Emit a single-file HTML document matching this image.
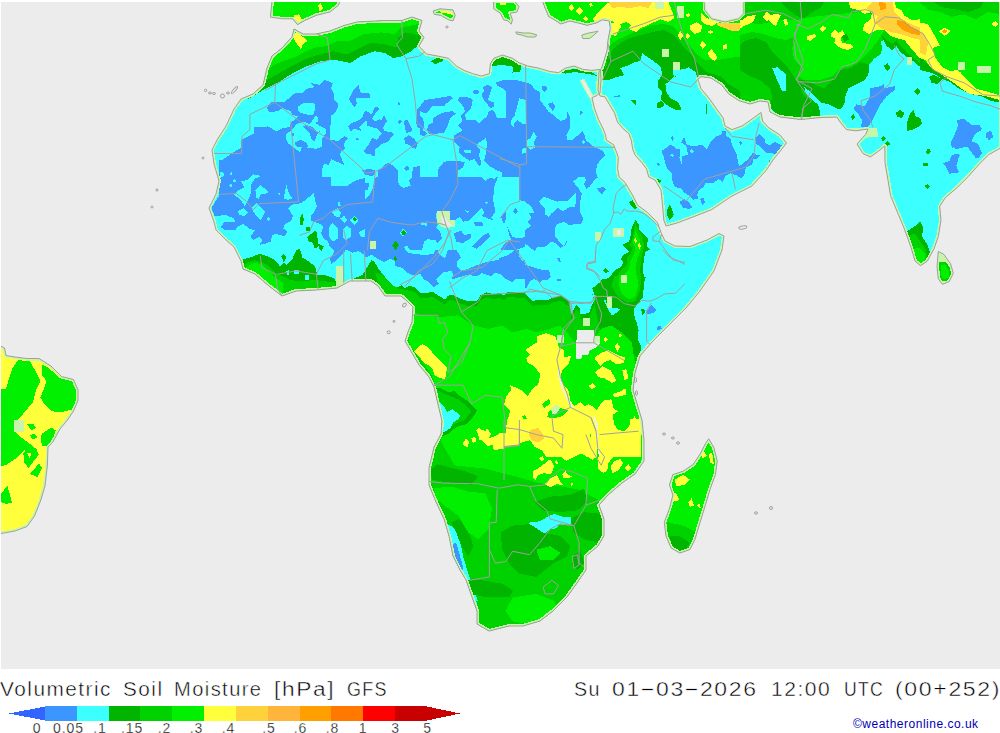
<!DOCTYPE html>
<html><head><meta charset="utf-8"><title>Volumetric Soil Moisture</title>
<style>
html,body{margin:0;padding:0;background:#fff;}
body{width:1000px;height:733px;position:relative;overflow:hidden;font-family:"Liberation Sans",sans-serif;color:#000;}
#map{position:absolute;left:1px;top:2px;width:999px;height:667px;background:#ececec;overflow:hidden;}
#map svg{position:absolute;left:-1px;top:-2px;}
.t{position:absolute;white-space:nowrap;transform-origin:0 0;font-size:19.5px;line-height:20px;top:679px;font-weight:400;-webkit-text-stroke:0.45px #fff;}
.lg{position:absolute;left:0;top:706px;}
.lb{position:absolute;top:721px;font-size:14px;line-height:14px;transform:translateX(-50%);letter-spacing:0.9px;margin-left:0.5px;-webkit-text-stroke:0.3px #fff;}
#cr{position:absolute;left:853px;top:717px;font-size:12px;line-height:14px;color:#0000b4;letter-spacing:0.5px;}
</style></head><body>
<div id="map"><svg width="1000" height="669" viewBox="0 0 1000 669" shape-rendering="crispEdges"><defs><clipPath id="land"><polygon points="294.0,29.0 303.0,34.0 316.0,34.0 330.0,31.0 344.0,25.5 357.0,22.0 385.0,20.5 402.0,20.5 412.0,17.0 422.0,20.5 419.0,31.0 424.0,37.5 419.0,46.0 420.0,47.3 426.6,54.0 437.6,56.0 448.6,58.3 456.3,66.0 464.0,70.4 472.8,73.7 481.6,76.0 489.3,73.7 490.4,63.8 493.7,58.3 502.5,55.0 512.4,58.3 519.0,62.7 527.8,66.0 538.8,68.2 549.8,71.5 558.6,72.6 565.2,68.2 574.0,66.0 582.8,69.3 591.6,70.4 600.4,69.3 601.0,80.0 600.0,93.0 596.0,96.0 592.0,97.6 594.4,108.0 598.4,119.2 603.2,128.8 605.6,135.2 606.4,140.0 613.6,144.8 616.8,152.8 618.4,157.6 617.6,168.8 619.2,177.0 625.0,182.5 632.5,195.0 637.5,205.0 647.5,212.5 657.5,222.5 661.0,232.5 665.0,241.0 675.0,246.0 690.0,246.5 707.0,240.0 719.0,233.5 724.0,236.0 722.0,250.0 714.0,271.0 700.0,291.0 686.0,308.0 669.0,325.0 652.0,342.0 640.0,356.0 635.0,373.0 633.0,390.0 638.0,407.0 642.0,420.0 644.0,440.0 644.0,461.0 635.0,474.0 622.0,483.0 608.0,495.0 599.0,505.0 604.0,519.0 604.0,536.0 598.0,546.0 586.0,556.0 586.0,570.0 577.0,583.0 567.0,597.0 553.0,611.0 540.0,621.0 523.0,626.0 509.0,626.0 489.0,631.0 477.0,624.0 477.0,611.0 472.0,597.0 466.0,580.0 460.0,570.0 453.0,556.0 449.0,536.0 444.0,519.0 436.0,502.0 429.0,485.0 429.0,468.0 434.0,447.0 441.0,434.0 442.0,421.0 437.0,400.0 434.0,387.0 429.0,377.0 419.0,365.0 412.0,353.0 405.0,341.0 408.0,332.0 412.0,322.0 413.0,307.0 407.0,301.0 401.0,296.0 385.0,296.0 378.0,286.0 371.0,281.0 350.0,281.0 337.0,288.0 316.0,290.0 296.0,291.0 282.0,296.0 269.0,286.0 255.0,274.0 243.0,269.0 241.0,261.0 234.0,247.0 226.0,240.0 216.0,230.0 214.0,222.0 209.0,208.0 216.0,194.0 219.0,181.0 214.0,164.0 212.0,150.0 217.0,140.0 226.0,126.0 234.0,109.0 241.0,99.0 253.0,94.0 263.0,85.0 267.0,68.0 272.0,56.0 282.0,48.0 292.0,37.0" fill="#000" /><polygon points="542.0,0.0 545.4,8.8 548.7,16.5 556.4,21.0 560.8,24.0 569.6,21.0 578.4,23.0 587.2,25.3 596.0,23.0 602.6,19.8 609.2,21.0 610.3,28.6 608.1,39.6 607.0,50.6 603.7,61.6 601.5,68.2 599.0,72.0 598.0,90.0 600.0,96.0 604.8,96.8 609.6,104.8 614.4,112.8 617.6,122.4 623.2,128.8 628.8,133.6 631.2,140.0 632.8,149.6 635.2,155.2 641.6,162.4 646.4,168.8 648.8,177.0 655.0,180.0 661.0,190.0 662.5,205.0 663.8,220.0 666.0,226.0 677.0,223.0 694.0,216.6 711.5,209.7 732.0,196.0 752.0,186.0 766.0,170.5 773.0,160.0 779.7,151.8 786.5,143.0 779.7,134.7 769.0,128.0 762.6,121.0 761.0,112.5 752.0,119.0 742.0,126.0 732.0,129.6 725.0,126.0 723.0,117.6 716.6,109.0 709.7,99.0 701.0,88.7 697.8,79.0 701.0,76.7 711.0,78.0 721.7,85.0 728.5,93.8 738.7,100.6 750.0,104.0 760.0,101.0 768.0,102.0 770.0,112.0 780.0,117.0 800.8,119.5 820.0,117.6 836.8,117.0 840.4,122.4 846.4,129.6 856.0,130.8 868.0,129.0 865.6,134.4 857.0,144.0 863.0,153.6 870.4,157.0 880.0,150.0 884.8,146.0 885.0,162.8 887.8,179.0 890.5,195.6 897.3,212.0 904.0,228.0 911.0,247.4 915.0,261.0 920.5,265.7 927.4,261.0 934.0,248.8 938.3,236.5 941.0,220.0 939.7,206.5 945.0,198.0 957.4,187.4 968.3,176.5 979.3,164.0 988.8,154.6 1001.0,147.8 1001.0,0.0" fill="#000" /><polygon points="708.7,438.8 713.8,447.3 717.2,460.9 715.5,474.6 710.4,488.2 705.3,505.3 700.1,522.3 695.0,539.4 689.9,549.6 679.7,553.0 671.1,547.9 666.0,536.0 664.3,522.3 669.4,508.7 672.9,495.0 669.4,484.8 672.9,474.6 683.1,471.2 693.3,464.3 700.1,454.1 705.3,443.9" fill="#000" /><polygon points="-1.5,345.0 4.5,348.0 6.0,355.5 15.0,357.0 27.0,358.5 39.0,358.5 51.0,366.0 61.5,376.5 73.5,379.5 78.0,390.0 78.0,400.5 73.5,411.0 67.5,420.0 60.0,429.0 52.5,442.5 48.0,447.0 47.4,465.0 45.0,486.0 40.5,501.0 34.5,516.0 27.0,526.5 15.0,531.0 -1.5,534.0" fill="#000" /><polygon points="272.1,0.0 270.4,17.1 282.3,18.8 292.6,18.8 297.7,24.6 304.5,20.5 316.4,15.3 330.1,11.9 338.6,5.1 340.3,0.0" fill="#000" /><polygon points="433.2,11.0 439.8,8.8 453.0,9.9 455.2,15.4 453.0,20.9 448.6,19.8 440.9,15.4 434.3,14.3" fill="#000" /><polygon points="493.7,1.1 493.7,8.8 500.3,13.2 503.6,19.8 508.0,20.9 511.3,24.2 512.4,19.8 510.2,13.2 516.8,12.1 519.0,6.6 514.6,1.1" fill="#000" /><polygon points="515.7,31.9 523.4,33.0 530.0,33.0 536.6,34.8 535.5,37.0 527.8,37.0 522.3,35.2 516.8,34.1" fill="#000" /><polygon points="581.7,35.2 587.2,33.4 598.2,31.2 593.8,35.2 589.4,38.5 582.8,38.5" fill="#000" /><polygon points="938.3,251.5 943.8,254.3 950.6,263.8 953.3,273.4 949.2,281.6 942.4,284.3 938.3,278.8 937.0,266.6" fill="#000" /></clipPath></defs><g clip-path="url(#land)"><rect x="0" y="0" width="1000" height="669" fill="#3cffff"/><polygon points="218.8,162.5 227.5,156.2 241.2,147.5 241.2,140.0 256.2,132.5 267.5,126.2 275.0,130.5 275.0,165.0 218.8,165.0" fill="#3c96ff" /><clipPath id="c1"><rect x="253" y="55" width="167" height="122"/></clipPath><g clip-path="url(#c1)"><polygon points="266.4,108.0 271.2,101.6 284.0,102.4 294.4,93.6 303.2,92.8 306.4,88.8 314.4,87.2 311.2,83.2 319.2,84.8 324.8,80.0 332.8,83.2 331.2,88.0 333.6,93.6 333.6,99.2 337.6,103.2 337.6,108.0 334.4,113.6 331.2,115.2 330.4,127.2 329.6,140.0 338.4,140.8 344.8,136.0 347.7,138.4 344.0,143.2 344.8,148.8 341.6,151.2 340.0,154.4 343.2,162.4 344.8,165.6 349.6,172.0 356.0,177.0 356.0,181.6 253.6,181.6 253.6,127.2 260.0,127.2 268.0,126.4 276.0,131.2 283.2,128.0 289.6,127.2 291.2,122.4 298.4,116.8 292.0,114.4 290.4,111.2 282.4,108.0 277.6,111.2 269.6,112.0" fill="#3c96ff" /><polygon points="298.4,106.4 303.2,103.2 314.4,103.2 315.2,109.6 312.8,115.2 306.4,114.4 300.0,112.8 297.6,109.6" fill="#3cffff" /><polygon points="291.2,130.4 296.8,124.0 303.2,121.6 309.6,124.0 312.8,120.0 315.2,116.0 317.6,116.8 317.6,121.6 315.2,123.2 325.6,128.8 325.6,133.6 322.4,138.4 322.4,146.4 316.8,148.8 308.8,148.0 302.4,146.4 300.0,152.0 296.0,149.6 288.0,143.2 285.6,138.4 286.4,133.6" fill="#3cffff" /><polygon points="322.4,168.8 324.0,164.0 328.8,164.8 331.2,159.2 338.4,162.4 344.8,165.6 349.6,172.0 356.0,177.0 356.0,181.6 322.4,181.6" fill="#3cffff" /><polygon points="302.4,126.4 306.4,124.8 312.8,127.2 317.6,132.0 321.6,130.4 316.8,135.2 314.4,141.6 311.2,138.4 309.6,132.8 306.4,130.4" fill="#3c96ff" /><polygon points="292.8,132.8 294.4,134.4 292.8,136.8 291.2,134.4" fill="#3c96ff" /><polygon points="294.4,143.2 297.6,140.8 301.6,140.0 307.2,143.2 308.0,147.2 302.4,146.4 297.6,147.2" fill="#3c96ff" /><polygon points="348.8,99.2 352.8,91.2 358.4,84.8 360.8,92.8 369.6,93.6 370.4,97.6 356.0,98.4 356.8,104.0 354.4,107.2" fill="#3c96ff" /><polygon points="348.0,126.4 351.2,123.2 357.6,120.8 362.4,117.6 364.0,112.0 366.4,111.2 372.0,114.4 374.4,108.0 376.8,106.4 379.2,108.8 375.2,113.6 372.0,118.4 375.2,121.6 379.2,119.2 381.6,120.0 384.0,115.2 387.2,120.8 383.2,127.2 384.0,131.2 391.2,132.0 393.6,134.4 388.0,141.6 381.6,144.0 375.2,149.6 374.4,156.8 370.4,154.4 365.6,153.6 363.2,151.2 368.8,144.8 372.0,137.6 376.8,140.0 381.6,133.6 377.6,128.8 372.0,127.2 367.2,125.6 366.4,120.0 362.4,124.0 359.2,127.2 361.6,131.2 354.4,128.8 350.4,131.2" fill="#3c96ff" /><polygon points="356.8,137.6 358.7,139.2 357.9,140.8 356.0,139.2" fill="#3c96ff" /><polygon points="398.4,102.4 400.0,103.2 399.2,105.6 397.9,104.0" fill="#3c96ff" /><polygon points="397.6,121.6 400.0,119.2 401.6,121.6 399.5,124.0" fill="#3c96ff" /><polygon points="404.0,121.6 407.2,119.2 409.6,124.0 412.0,128.8 411.2,132.0 406.4,132.8 404.8,127.2" fill="#3c96ff" /><polygon points="404.0,138.4 408.8,135.2 413.6,138.4 417.6,143.2 416.0,148.8 412.0,148.0 408.8,144.8 405.6,144.0" fill="#3c96ff" /><polygon points="417.6,108.0 420.0,107.2 421.6,128.8 417.6,127.2 416.0,122.4 416.8,114.4" fill="#3c96ff" /><polygon points="362.4,170.4 368.8,168.8 375.2,170.4 374.4,175.2 370.4,176.0 364.8,174.4" fill="#3c96ff" /><polygon points="378.4,170.4 388.0,162.4 394.4,166.4 397.6,170.4 397.6,178.4 378.4,178.4" fill="#3c96ff" /><polygon points="404.0,168.0 407.2,165.6 409.6,168.8 406.4,171.2" fill="#3c96ff" /><polygon points="412.8,167.2 421.6,165.6 421.6,178.4 412.0,178.4" fill="#3c96ff" /></g><clipPath id="c2"><rect x="420" y="55" width="160" height="122"/></clipPath><g clip-path="url(#c2)"><polygon points="496.0,82.4 503.2,80.0 516.0,80.0 525.6,82.4 530.4,84.0 535.2,89.6 540.0,92.0 540.0,100.0 544.8,106.4 548.0,111.2 552.8,114.4 556.0,117.6 560.8,120.8 566.4,119.2 567.2,111.2 569.6,116.0 570.4,127.2 566.4,135.2 567.2,140.0 572.0,140.0 580.0,133.6 596.0,133.6 596.0,181.6 503.2,181.6 501.6,172.0 496.8,170.4 488.8,165.6 484.0,160.8 485.6,154.4 487.2,143.2 485.6,138.4 476.0,144.8 480.0,149.6 479.2,156.0 481.6,164.0 479.2,166.4 474.4,159.2 469.6,160.8 462.4,156.0 458.4,151.2 460.0,147.2 454.4,141.6 454.4,135.2 462.4,130.4 458.4,125.6 462.4,121.6 460.8,116.0 464.8,111.2 463.2,106.4 457.6,100.0 460.0,96.8 469.6,97.6 472.8,100.0 471.2,108.0 468.0,111.2 464.8,114.4 466.4,120.0 475.2,120.0 479.2,123.2 487.2,116.0 488.8,111.2 492.8,109.6 495.2,112.8 496.8,118.4 506.4,117.6 506.4,92.0 503.2,88.8 496.8,85.6" fill="#3c96ff" /><polygon points="472.8,91.2 476.0,89.6 480.0,92.0 477.6,94.4 474.4,94.4" fill="#3c96ff" /><polygon points="483.2,87.2 487.2,84.8 492.0,87.2 490.4,92.0 488.0,100.0 493.6,102.4 494.4,106.4 490.4,108.0 487.2,104.0 484.0,100.0 481.6,94.4 484.0,92.0" fill="#3c96ff" /><polygon points="424.8,100.0 436.0,98.4 450.4,96.0 452.8,98.4 445.6,104.0 444.0,106.4 432.8,105.6 426.4,113.6 420.0,111.2 420.0,106.4" fill="#3c96ff" /><polygon points="433.6,117.6 442.4,112.8 452.0,111.2 456.0,113.6 450.4,117.6 446.4,128.8 444.0,132.8 429.6,134.4 427.2,130.4 428.0,124.8 432.8,122.4" fill="#3c96ff" /><polygon points="420.0,115.2 423.2,118.4 424.0,124.0 423.2,130.4 427.2,133.6 424.8,136.0 420.0,135.2" fill="#3c96ff" /><polygon points="444.0,161.6 458.4,160.8 464.8,162.4 463.2,167.2 458.4,170.4 456.8,178.4 437.6,178.4 438.4,168.8" fill="#3c96ff" /><polygon points="542.4,86.4 545.6,85.6 547.2,88.8 544.8,92.0 542.4,89.6" fill="#3c96ff" /><polygon points="548.0,104.0 552.8,102.4 555.2,106.4 552.8,111.2 550.4,108.0" fill="#3c96ff" /><polygon points="519.2,98.4 526.4,100.0 526.4,124.0 522.4,124.0 517.6,120.0 514.4,123.2 513.6,127.2 510.4,123.2 511.2,120.0 514.4,116.0 516.8,108.0 518.4,101.6" fill="#3cffff" /><polygon points="533.6,132.0 536.8,136.8 533.6,142.4 535.2,147.2 530.4,149.6 527.2,147.2 527.2,140.0 530.4,138.4" fill="#3cffff" /><polygon points="521.6,148.8 525.6,148.0 526.4,152.8 522.4,153.6" fill="#3cffff" /><polygon points="464.0,150.4 471.2,149.6 471.2,152.8 464.8,152.8" fill="#3cffff" /></g><clipPath id="c3"><rect x="580" y="55" width="60" height="122"/></clipPath><g clip-path="url(#c3)"><polygon points="550.4,120.0 564.8,118.4 567.2,111.2 569.6,116.0 569.6,127.2 566.4,133.6 566.4,140.0 572.8,139.2 577.6,135.2 582.4,131.2 584.8,135.2 585.6,140.0 590.4,144.0 594.4,147.2 602.4,150.4 605.6,155.2 600.0,160.0 596.8,165.6 596.0,172.0 599.2,181.6 550.4,181.6" fill="#3c96ff" /><polygon points="578.4,112.0 580.8,110.9 582.7,112.5 580.5,114.7" fill="#3c96ff" /><polygon points="581.6,141.6 583.2,140.0 585.3,142.4 583.2,144.8" fill="#3cffff" /></g><clipPath id="c4"><rect x="205" y="160" width="55" height="17"/></clipPath><g clip-path="url(#c4)"><polygon points="219.4,160.0 365.0,160.0 365.0,203.2 349.0,205.6 345.8,207.2 341.0,208.0 340.2,202.4 337.8,202.4 337.8,206.4 333.0,206.4 323.4,212.8 317.0,215.2 320.2,219.2 315.4,222.4 310.6,220.8 310.6,216.0 313.8,212.8 317.0,206.4 315.4,201.6 313.8,192.8 307.4,198.4 301.0,203.2 291.4,204.8 288.2,208.0 293.0,216.0 291.4,220.8 285.0,224.0 283.4,228.8 287.4,231.2 285.0,236.0 280.2,235.2 275.4,233.6 272.2,235.2 270.6,241.6 264.2,244.0 259.4,244.8 262.6,240.0 259.4,236.8 253.0,240.0 250.6,236.8 254.6,230.4 249.8,228.8 243.4,224.0 237.0,227.2 235.4,230.4 225.8,230.4 221.0,227.2 224.2,222.4 235.4,221.6 233.8,218.4 225.8,215.2 214.6,216.0 211.4,208.0 219.4,195.2 218.6,176.0" fill="#3c96ff" /><polygon points="315.4,222.4 320.2,219.2 317.0,215.2 323.4,212.8 333.0,206.4 366.6,203.2 366.6,256.0 358.6,251.2 352.2,252.8 345.8,249.6 342.6,254.4 337.8,259.2 331.4,264.0 329.8,259.2 334.6,251.2 329.8,246.4 328.2,241.6 323.4,238.4 321.0,232.8 323.4,227.2 320.2,224.0" fill="#3c96ff" /><polygon points="322.6,167.2 328.2,163.2 331.4,160.0 335.4,160.0 344.2,165.6 344.2,160.0 366.6,160.0 366.6,177.6 354.6,180.8 346.6,186.4 331.4,186.4 330.6,165.6" fill="#3cffff" /><polygon points="233.8,194.4 239.4,189.6 244.2,187.2 241.0,181.6 247.4,180.0 253.0,174.4 261.0,176.0 254.6,178.9 250.6,185.6 251.4,192.0 248.2,200.0 245.0,206.4 241.8,201.6 237.8,197.6" fill="#3cffff" /><polygon points="255.4,190.4 260.2,184.8 269.0,192.0 265.0,194.4 261.0,194.4 258.6,199.2 256.2,197.6" fill="#3cffff" /><polygon points="251.4,208.0 256.2,203.2 261.8,208.0 265.0,212.0 261.0,220.0 256.2,216.0" fill="#3cffff" /><polygon points="237.8,211.2 243.4,208.0 248.2,212.8 245.0,216.0 239.4,215.2" fill="#3cffff" /><polygon points="266.6,219.2 268.7,216.8 270.3,219.2 268.4,221.6" fill="#3cffff" /><polygon points="283.4,198.4 286.6,184.8 288.2,192.0 292.2,198.4 288.2,200.0" fill="#3cffff" /><polygon points="277.8,193.6 280.2,192.8 279.9,195.2" fill="#3cffff" /><polygon points="229.0,184.8 231.4,184.0 232.2,186.4 229.8,187.2" fill="#3cffff" /><polygon points="233.0,180.0 235.4,179.2 236.2,181.6 233.8,182.4" fill="#3cffff" /><polygon points="229.8,172.8 232.2,172.0 232.2,175.2 229.8,175.2" fill="#3cffff" /><polygon points="220.2,172.0 224.2,172.8 223.4,176.8 220.2,177.6" fill="#3cffff" /><polygon points="329.0,227.2 332.2,223.2 337.8,228.8 337.8,238.4 333.0,241.6 329.0,236.8" fill="#3cffff" /><polygon points="342.6,230.4 346.6,225.6 351.4,228.8 350.6,236.8 345.8,240.0 342.6,236.8" fill="#3cffff" /><polygon points="331.4,211.2 337.8,208.0 341.0,212.8 339.4,217.6 334.6,216.0" fill="#3cffff" /><polygon points="340.2,218.4 344.2,216.0 347.4,220.0 344.2,223.2" fill="#3cffff" /><polygon points="349.8,220.0 354.6,216.0 358.6,220.0 354.6,225.6" fill="#3cffff" /><polygon points="358.6,232.0 365.0,228.8 365.0,236.8 361.0,236.8" fill="#3cffff" /></g><clipPath id="c5"><rect x="205" y="177" width="160" height="100"/></clipPath><g clip-path="url(#c5)"><polygon points="219.4,160.0 365.0,160.0 365.0,203.2 349.0,205.6 345.8,207.2 341.0,208.0 340.2,202.4 337.8,202.4 337.8,206.4 333.0,206.4 323.4,212.8 317.0,215.2 320.2,219.2 315.4,222.4 310.6,220.8 310.6,216.0 313.8,212.8 317.0,206.4 315.4,201.6 313.8,192.8 307.4,198.4 301.0,203.2 291.4,204.8 288.2,208.0 293.0,216.0 291.4,220.8 285.0,224.0 283.4,228.8 287.4,231.2 285.0,236.0 280.2,235.2 275.4,233.6 272.2,235.2 270.6,241.6 264.2,244.0 259.4,244.8 262.6,240.0 259.4,236.8 253.0,240.0 250.6,236.8 254.6,230.4 249.8,228.8 243.4,224.0 237.0,227.2 235.4,230.4 225.8,230.4 221.0,227.2 224.2,222.4 235.4,221.6 233.8,218.4 225.8,215.2 214.6,216.0 211.4,208.0 219.4,195.2 218.6,176.0" fill="#3c96ff" /><polygon points="315.4,222.4 320.2,219.2 317.0,215.2 323.4,212.8 333.0,206.4 366.6,203.2 366.6,256.0 358.6,251.2 352.2,252.8 345.8,249.6 342.6,254.4 337.8,259.2 331.4,264.0 329.8,259.2 334.6,251.2 329.8,246.4 328.2,241.6 323.4,238.4 321.0,232.8 323.4,227.2 320.2,224.0" fill="#3c96ff" /><polygon points="322.6,167.2 328.2,163.2 331.4,160.0 335.4,160.0 344.2,165.6 344.2,160.0 366.6,160.0 366.6,177.6 354.6,180.8 346.6,186.4 331.4,186.4 330.6,165.6" fill="#3cffff" /><polygon points="233.8,194.4 239.4,189.6 244.2,187.2 241.0,181.6 247.4,180.0 253.0,174.4 261.0,176.0 254.6,178.9 250.6,185.6 251.4,192.0 248.2,200.0 245.0,206.4 241.8,201.6 237.8,197.6" fill="#3cffff" /><polygon points="255.4,190.4 260.2,184.8 269.0,192.0 265.0,194.4 261.0,194.4 258.6,199.2 256.2,197.6" fill="#3cffff" /><polygon points="251.4,208.0 256.2,203.2 261.8,208.0 265.0,212.0 261.0,220.0 256.2,216.0" fill="#3cffff" /><polygon points="237.8,211.2 243.4,208.0 248.2,212.8 245.0,216.0 239.4,215.2" fill="#3cffff" /><polygon points="266.6,219.2 268.7,216.8 270.3,219.2 268.4,221.6" fill="#3cffff" /><polygon points="283.4,198.4 286.6,184.8 288.2,192.0 292.2,198.4 288.2,200.0" fill="#3cffff" /><polygon points="277.8,193.6 280.2,192.8 279.9,195.2" fill="#3cffff" /><polygon points="229.0,184.8 231.4,184.0 232.2,186.4 229.8,187.2" fill="#3cffff" /><polygon points="233.0,180.0 235.4,179.2 236.2,181.6 233.8,182.4" fill="#3cffff" /><polygon points="229.8,172.8 232.2,172.0 232.2,175.2 229.8,175.2" fill="#3cffff" /><polygon points="220.2,172.0 224.2,172.8 223.4,176.8 220.2,177.6" fill="#3cffff" /><polygon points="329.0,227.2 332.2,223.2 337.8,228.8 337.8,238.4 333.0,241.6 329.0,236.8" fill="#3cffff" /><polygon points="342.6,230.4 346.6,225.6 351.4,228.8 350.6,236.8 345.8,240.0 342.6,236.8" fill="#3cffff" /><polygon points="331.4,211.2 337.8,208.0 341.0,212.8 339.4,217.6 334.6,216.0" fill="#3cffff" /><polygon points="340.2,218.4 344.2,216.0 347.4,220.0 344.2,223.2" fill="#3cffff" /><polygon points="349.8,220.0 354.6,216.0 358.6,220.0 354.6,225.6" fill="#3cffff" /><polygon points="358.6,232.0 365.0,228.8 365.0,236.8 361.0,236.8" fill="#3cffff" /></g><clipPath id="c6"><rect x="365" y="177" width="160" height="100"/></clipPath><g clip-path="url(#c6)"><polygon points="363.4,158.4 526.6,158.4 526.6,281.6 363.4,281.6" fill="#3c96ff" /><polygon points="389.0,163.2 391.4,158.4 445.0,158.4 438.6,166.4 437.8,175.2 435.4,177.6 432.2,173.6 426.6,173.6 421.0,177.6 420.2,169.6 416.2,166.4 413.0,168.8 412.2,176.8 409.0,180.8 410.6,185.6 403.4,188.0 398.6,184.8 397.8,171.2 395.4,167.2" fill="#3cffff" /><polygon points="363.4,169.6 371.4,171.2 377.8,170.4 374.6,180.8 372.2,190.4 368.2,196.8 363.4,201.6" fill="#3cffff" /><polygon points="459.4,170.4 465.0,164.8 475.4,166.4 477.0,162.4 480.2,158.4 504.2,158.4 518.6,168.8 518.6,174.4 513.0,176.0 505.8,174.4 502.6,177.6 497.8,176.0 494.6,179.2 490.6,177.6 485.0,180.8 480.2,176.0 475.4,173.6 467.4,174.4 461.0,174.4" fill="#3cffff" /><polygon points="494.6,184.8 497.8,177.6 505.8,176.0 518.6,174.4 518.6,200.0 510.6,202.4 506.6,206.4 505.8,212.0 501.0,216.8 494.6,220.8 491.4,217.6 495.4,211.2 493.0,200.0" fill="#3cffff" /><polygon points="436.2,227.2 438.6,224.0 435.4,216.0 437.0,211.2 448.2,211.2 448.2,220.0 454.6,220.8 459.4,216.8 463.4,221.6 469.0,220.8 477.0,212.8 481.8,208.0 484.2,212.8 481.8,216.0 489.8,219.2 494.6,220.8 501.0,216.8 504.2,224.0 507.4,227.2 509.8,236.8 511.4,240.0 507.4,241.6 502.6,246.4 497.8,254.4 493.0,256.0 480.2,260.0 480.2,264.0 475.4,267.2 461.0,270.4 456.2,272.0 453.8,278.4 425.8,278.4 429.0,268.8 433.8,262.4 435.4,254.4 433.8,254.4 430.6,249.6 421.0,254.4 418.6,253.6 422.6,248.0 424.2,241.6 427.4,239.2 435.4,240.0 437.0,243.2 441.8,238.4 440.2,232.0" fill="#3cffff" /><polygon points="505.8,212.0 506.6,206.4 510.6,202.4 518.6,200.0 526.6,201.6 526.6,236.8 518.6,238.4 512.2,236.8 509.8,232.0 507.4,227.2 504.2,224.0 505.8,219.2" fill="#3cffff" /><polygon points="517.0,249.6 526.6,246.4 526.6,262.4 518.6,259.2 516.2,254.4" fill="#3cffff" /><polygon points="363.4,259.2 373.0,260.0 379.4,264.8 389.0,257.6 393.8,254.4 398.6,256.0 397.0,262.4 395.4,265.6 401.8,268.8 409.8,273.6 417.8,275.2 419.4,281.6 363.4,281.6" fill="#3cffff" /><polygon points="421.0,223.2 426.6,223.2 426.6,225.6 421.0,225.3" fill="#3cffff" /><polygon points="404.2,247.2 406.9,245.6 409.8,249.6 406.9,252.8" fill="#3cffff" /><polygon points="405.0,168.0 406.9,166.1 408.5,168.3 406.6,170.9" fill="#3cffff" /><polygon points="465.0,210.4 469.0,211.2 467.4,212.8" fill="#3cffff" /><polygon points="485.0,201.9 488.2,202.4 485.8,204.0" fill="#3cffff" /><polygon points="399.4,232.8 403.1,228.8 406.9,232.8 403.1,236.8" fill="#3cffff" /><polygon points="461.0,275.2 486.6,274.4 486.6,279.2 461.0,279.2" fill="#3cffff" /><polygon points="363.4,182.4 369.0,183.2 368.2,189.6 363.4,190.4" fill="#3c96ff" /><polygon points="453.8,233.6 461.0,230.4 464.2,235.2 470.6,233.6 470.6,238.4 462.6,243.2 456.2,241.6" fill="#3c96ff" /><polygon points="473.8,222.4 481.8,221.6 483.4,225.6 475.4,225.6" fill="#3c96ff" /><polygon points="472.2,246.4 483.4,235.2 489.0,232.8 489.8,236.8 477.0,248.8" fill="#3c96ff" /><polygon points="448.2,251.2 454.6,250.4 457.8,256.0 462.6,260.0 457.8,264.8 454.6,262.4 451.4,257.6 448.2,256.0" fill="#3c96ff" /><polygon points="513.0,211.2 515.4,208.0 517.8,211.2 515.4,214.4" fill="#3c96ff" /><polygon points="501.8,219.2 504.2,216.8 505.8,220.0 503.4,223.2" fill="#3c96ff" /><polygon points="491.4,259.2 496.2,255.2 499.4,258.4 495.4,261.6" fill="#3cffff" /></g><clipPath id="c7"><rect x="525" y="177" width="115" height="100"/></clipPath><g clip-path="url(#c7)"><rect x="525" y="177" width="115" height="100" fill="#3cffff"/><polygon points="524.7,158.4 600.2,158.4 596.2,166.4 597.0,172.8 599.4,176.0 593.8,180.8 589.8,186.4 586.6,188.8 584.2,184.0 585.8,180.0 582.6,172.8 577.8,177.6 573.0,181.6 577.8,187.2 581.8,193.6 580.2,201.6 580.2,212.8 583.4,219.2 581.0,224.0 568.2,224.8 564.2,221.6 556.2,224.8 554.6,230.4 555.4,236.8 559.4,241.6 563.4,246.4 567.4,240.0 565.8,244.8 560.2,248.0 556.2,243.2 550.6,241.6 545.8,246.4 537.0,247.2 534.6,251.2 529.8,247.2 524.7,243.2 524.7,230.4 531.4,225.6 527.4,222.4 531.4,217.6 529.0,212.8 534.6,212.8 531.4,206.4 524.7,201.6" fill="#3c96ff" /><polygon points="539.4,201.6 544.2,196.8 550.6,199.2 557.0,201.6 568.2,200.8 576.2,192.8 575.4,206.4 569.0,207.2 563.4,211.2 557.8,208.0 551.4,213.6 549.0,216.8 545.0,214.4 545.0,208.0 540.2,204.0" fill="#3cffff" /><polygon points="565.0,185.6 568.2,183.2 571.4,186.4 567.9,189.1" fill="#3c96ff" /><polygon points="597.0,188.0 603.4,187.2 605.8,189.6 601.8,194.4 598.6,191.2" fill="#3c96ff" /><polygon points="557.0,258.4 559.4,257.6 561.0,262.4 558.6,261.6" fill="#3c96ff" /><polygon points="524.7,264.8 533.0,267.2 541.0,269.6 549.0,270.4 552.2,281.6 524.7,281.6" fill="#3c96ff" /></g><clipPath id="c8"><rect x="365" y="250" width="160" height="50"/></clipPath><g clip-path="url(#c8)"><rect x="365" y="250" width="160" height="50" fill="#3cffff"/><polygon points="364.2,249.2 364.2,258.0 371.4,254.8 377.8,258.8 384.2,262.0 390.6,258.8 395.4,261.2 395.4,266.0 401.8,267.6 406.6,272.4 413.0,275.6 420.2,274.0 424.2,279.6 429.0,282.0 433.8,287.6 438.6,283.6 436.2,279.6 443.4,272.4 451.4,270.8 453.0,274.0 452.2,279.6 459.4,277.2 467.4,274.8 477.0,276.4 481.8,273.2 491.4,276.4 494.6,272.4 500.2,274.0 505.8,278.8 512.2,282.0 515.4,278.8 526.6,279.6 526.6,249.2" fill="#3c96ff" /><polygon points="405.0,249.2 409.0,253.2 417.8,254.0 421.0,254.8 425.8,254.8 433.8,254.0 435.4,249.2" fill="#3cffff" /><polygon points="437.8,249.2 448.2,249.2 445.0,258.0 441.8,256.4 438.6,253.2" fill="#3cffff" /><polygon points="456.2,249.2 515.4,249.2 509.0,254.8 499.4,258.0 499.4,259.6 491.4,261.2 483.4,262.8 477.0,265.2 467.4,269.2 461.0,270.8 457.0,266.0 457.0,261.2 461.0,258.0" fill="#3cffff" /><polygon points="518.6,249.2 526.6,249.2 526.6,259.6 522.6,261.2 519.4,256.4" fill="#3cffff" /><polygon points="393.8,258.0 395.4,256.1 397.0,258.3 395.4,260.6" fill="#00b400" /></g><clipPath id="c9"><rect x="525" y="277" width="175" height="63"/></clipPath><g clip-path="url(#c9)"><polygon points="524.2,265.2 529.0,266.0 533.0,269.2 544.2,269.2 549.0,270.8 552.2,274.8 548.2,279.6 542.6,280.4 539.4,282.8 534.6,278.8 529.8,281.2 526.6,287.6 524.2,287.6" fill="#3c96ff" /><polygon points="557.0,258.0 559.4,258.8 561.0,262.8 558.6,261.2" fill="#3c96ff" /><polygon points="557.0,278.8 561.0,278.8 561.0,280.7 557.0,280.7" fill="#3c96ff" /><polygon points="647.4,310.0 651.4,305.2 656.2,310.0 653.8,313.2 647.4,314.0" fill="#3c96ff" /><polygon points="657.0,326.8 661.0,326.0 661.8,329.2 657.0,330.0" fill="#3c96ff" /><polygon points="536.2,274.0 539.4,273.2 541.0,275.6 537.8,277.2" fill="#3cffff" /></g><polygon points="240.0,267.5 241.2,260.0 250.0,257.5 260.0,253.8 267.5,256.2 275.0,260.0 280.0,266.2 283.8,262.5 286.2,265.0 292.5,258.8 296.2,250.0 300.0,248.8 302.5,257.5 310.0,262.5 315.0,266.2 317.5,275.0 325.0,275.0 335.0,278.8 336.2,283.8 350.0,283.8 350.0,280.0 362.5,275.0 365.0,270.8 371.4,260.4 374.6,262.0 377.8,267.6 382.6,274.0 389.0,282.0 395.4,288.4 401.8,285.2 405.0,288.4 408.2,286.0 414.6,286.8 419.4,292.4 427.4,293.2 432.2,291.6 438.6,295.6 445.0,299.6 448.2,295.6 452.2,294.8 461.0,298.8 467.4,301.2 477.0,301.2 480.2,295.6 486.6,292.4 493.0,294.0 499.4,293.2 504.2,295.6 507.4,292.4 512.2,291.6 517.0,293.2 525.0,292.4 525.0,293.2 529.8,298.0 533.0,301.2 537.8,299.6 547.4,300.4 553.8,297.2 561.8,295.6 566.6,299.6 569.8,302.8 571.4,314.0 576.2,305.2 580.2,309.2 580.2,314.0 589.0,313.2 592.2,304.4 595.4,298.0 593.8,293.2 592.2,288.4 600.2,282.0 601.8,279.6 609.0,278.0 614.6,270.4 621.0,267.2 623.4,262.4 620.2,259.2 624.2,254.4 629.0,252.0 626.6,248.8 622.6,244.8 629.0,241.6 630.6,235.2 631.4,228.8 633.8,223.2 635.4,220.0 638.6,224.0 639.4,230.4 644.2,235.2 648.2,238.4 646.6,246.4 650.6,249.6 645.0,252.0 644.2,259.2 642.6,268.8 644.2,277.0 645.8,277.2 644.2,282.0 643.4,291.6 642.6,298.0 637.0,304.4 633.8,309.2 634.6,317.2 637.0,323.6 638.6,330.0 637.8,339.6 641.0,346.0 640.2,354.0 641.0,360.4 641.0,368.4 641.0,700.0 200.0,700.0 200.0,262.0" fill="#00b400" /><polygon points="405.0,300.0 408.2,291.0 414.6,291.8 419.4,297.4 427.4,298.2 432.2,296.6 438.6,300.6 445.0,304.6 448.2,300.6 452.2,299.8 461.0,303.8 467.4,306.2 477.0,306.2 480.2,300.6 486.6,297.4 493.0,299.0 499.4,298.2 504.2,300.6 507.4,297.4 512.2,296.6 517.0,298.2 525.0,297.4 525.0,298.2 529.8,303.0 533.0,306.2 537.8,304.6 547.4,305.4 553.8,302.2 561.8,300.6 566.6,304.6 569.8,307.8 571.4,319.0 576.2,310.2 580.2,314.2 580.2,319.0 589.0,318.2 592.2,309.4 595.4,303.0 593.8,298.2 592.2,293.4 600.0,330.0 641.0,360.0 641.0,700.0 400.0,700.0" fill="#00d200" /><polygon points="406.8,308.4 420.5,315.3 440.9,317.0 458.0,315.3 473.3,325.5 488.7,328.9 502.3,325.5 512.6,332.3 526.2,328.9 536.4,332.3 550.1,328.9 560.3,325.5 567.1,332.3 577.4,346.0 591.0,342.6 601.2,328.9 611.5,325.5 621.7,332.3 631.9,342.6 635.3,366.4 638.7,390.3 643.9,421.0 645.6,448.3 638.7,468.7 625.1,480.0 618.3,499.4 604.6,502.9 577.4,489.2 536.4,482.4 512.6,475.6 485.3,468.7 454.6,465.3 440.9,441.5 444.3,421.0 458.0,414.2 464.8,403.9 451.2,400.5 437.5,390.3 430.7,373.2 420.5,359.6 410.2,346.0 406.8,332.3" fill="#00f000" /><polygon points="635.4,223.2 637.8,228.8 642.6,236.8 644.2,246.4 641.8,256.0 640.2,268.8 641.0,278.4 614.6,278.4 621.0,270.4 627.4,264.0 627.4,257.6 630.6,254.4 632.2,248.0 629.0,244.8 632.2,240.0 633.8,230.4" fill="#00d200" /><polygon points="635.4,230.4 640.2,240.0 641.0,249.6 637.0,259.2 635.4,268.8 637.0,278.4 621.0,278.4 629.0,268.8 630.6,260.8 633.8,254.4 635.4,248.0 633.0,243.2" fill="#00f000" /><polygon points="614.6,275.6 640.2,275.6 641.0,282.0 639.4,291.6 635.4,301.2 627.4,302.8 619.4,298.0 614.6,291.6 611.4,285.2" fill="#00d200" /><polygon points="619.4,275.6 637.0,275.6 638.6,285.2 635.4,296.4 629.0,299.6 622.6,294.8 619.4,286.8" fill="#00f000" /><polygon points="633.8,240.0 635.4,237.6 637.0,240.8 635.4,243.2" fill="#ffff3c" /><polygon points="637.8,245.6 639.4,242.4 641.0,246.4 639.4,249.6" fill="#ffff3c" /><polygon points="605.0,298.0 608.2,307.6 617.0,307.6 620.2,310.0 612.2,315.6 608.2,310.0 604.2,301.2" fill="#3cffff" /><polygon points="537.2,336.1 546.2,333.1 555.2,336.1 557.2,342.1 560.2,350.1 564.3,357.1 571.3,356.1 568.3,364.2 562.2,370.2 560.2,378.2 564.3,386.2 568.3,390.2 570.3,400.3 574.3,406.3 580.3,402.3 584.3,406.3 588.3,404.3 592.3,406.3 596.3,410.3 600.4,404.3 604.4,400.3 611.4,399.3 613.4,408.3 618.4,411.3 613.4,414.3 612.4,424.3 616.4,430.4 622.4,433.4 628.4,430.4 630.5,422.3 634.5,416.3 640.5,424.3 640.5,457.0 604.4,457.0 600.4,450.4 598.4,440.4 596.3,457.0 586.3,457.0 582.3,450.4 576.3,448.4 568.3,450.4 562.2,457.0 546.2,457.0 542.2,450.4 534.2,446.4 530.2,440.4 520.1,438.4 510.1,442.4 504.1,448.4 494.0,450.4 491.0,440.4 498.1,434.4 506.1,432.4 510.1,426.3 508.1,418.3 510.1,410.3 504.1,404.3 506.1,396.3 511.1,390.2 510.1,385.2 520.1,389.2 528.1,396.3 531.2,390.2 538.2,384.2 540.2,374.2 534.2,366.2 528.1,363.2 526.1,358.1 530.2,354.1 525.1,350.1 532.2,345.1 537.2,342.1" fill="#ffff3c" /><polygon points="542.2,404.3 549.2,398.3 550.2,403.3 544.2,408.3" fill="#00f000" /><polygon points="548.2,412.3 555.2,406.3 568.3,410.3 562.2,416.3 554.2,418.3 547.2,417.3" fill="#00f000" /><polygon points="585.3,430.4 589.3,428.4 591.3,434.4 588.3,442.4 585.3,440.4" fill="#00f000" /><polygon points="522.1,416.3 525.1,415.3 527.1,419.3 524.5,421.9" fill="#00f000" /><polygon points="551.2,408.3 557.2,404.3 560.2,408.3 556.2,414.3 551.8,414.3" fill="#c8f5aa" /><polygon points="531.2,429.4 538.2,428.4 542.2,432.4 544.2,438.4 538.2,442.4 531.2,440.4 529.1,434.4" fill="#ffd23c" /><polygon points="594.3,358.1 600.4,353.1 608.4,350.1 620.4,356.1 625.4,357.1 623.4,363.2 616.4,364.2 610.4,360.2 604.4,362.2 600.4,366.2" fill="#ffff3c" /><polygon points="595.3,372.2 602.4,366.2 610.4,370.2 616.4,380.2 612.4,383.2 604.4,378.2 598.4,377.2" fill="#ffff3c" /><polygon points="588.3,386.2 592.3,383.2 596.3,386.2 592.3,389.2" fill="#ffff3c" /><polygon points="612.4,394.3 620.4,391.2 625.4,388.2 626.4,394.3 620.4,396.3 614.4,397.3" fill="#ffff3c" /><polygon points="622.4,370.2 626.4,369.2 628.4,378.2 624.4,380.2" fill="#ffff3c" /><polygon points="614.4,346.1 617.4,343.1 620.0,347.1 617.4,352.1" fill="#ffff3c" /><polygon points="603.4,339.1 606.0,337.1 608.0,340.1 605.4,342.1" fill="#ffff3c" /><polygon points="618.4,335.1 620.4,333.7 622.0,336.1 620.0,337.7" fill="#ffff3c" /><polygon points="557.2,350.1 560.2,348.1 564.3,350.1 563.2,358.1 558.2,359.1" fill="#ffff3c" /><polygon points="577.3,330.1 594.3,330.1 594.3,342.1 600.4,343.1 595.3,348.1 589.3,351.1 588.3,355.1 582.3,355.1 581.3,359.1 576.3,359.1 576.3,343.1" fill="#ececec" /><polygon points="583.3,318.0 590.3,318.0 590.3,326.0 583.3,326.0" fill="#c8f5aa" /><polygon points="557.2,335.1 564.3,335.1 564.3,343.1 557.2,343.1" fill="#c8f5aa" /><polygon points="594.3,336.1 600.4,336.1 600.4,343.1 594.3,343.1" fill="#c8f5aa" /><polyline points="558.6,369.2 559.8,378.2 562.2,388.2 566.3,396.3 570.3,404.3 572.7,408.7" fill="none" stroke="#e6f5dc" stroke-width="2" /><polyline points="593.3,417.3 596.3,422.3 598.4,434.4 598.0,446.4 600.4,458.4" fill="none" stroke="#e6f5dc" stroke-width="2" /><polygon points="414.0,351.1 422.1,344.0 428.1,347.1 432.1,352.1 437.1,358.1 443.1,363.1 447.1,368.1 446.1,373.1 445.1,379.1 440.1,378.1 434.1,375.1 433.1,370.1 428.1,365.1 423.1,362.1 419.1,356.1" fill="#ffff3c" /><polygon points="433.1,387.2 440.1,388.2 448.1,392.2 454.2,391.2 460.2,396.2 466.2,400.2 472.2,406.2 477.2,410.2 472.2,418.3 466.2,424.3 458.2,426.3 452.2,430.3 448.1,434.3 442.1,436.3 438.1,442.3 436.1,448.4 430.1,448.4 430.1,387.2" fill="#00b400" /><polygon points="437.1,390.2 448.1,395.2 458.2,399.2 468.2,407.2 471.2,412.2 464.2,420.3 456.2,423.3 450.2,427.3 446.1,431.3 440.1,433.3 438.1,410.2" fill="#00d200" /><polygon points="439.1,402.2 444.1,406.2 447.1,412.2 452.2,409.2 460.2,415.3 458.2,419.3 453.2,422.3 450.2,428.3 444.1,432.3 441.1,431.3 440.1,414.3 438.1,404.2" fill="#3cffff" /><polygon points="476.2,430.3 479.2,427.3 484.3,432.3 487.3,428.3 491.3,434.3 488.3,438.3 494.3,436.3 500.3,433.3 508.3,434.3 514.3,431.3 518.4,434.3 519.4,445.3 512.3,446.3 504.3,446.3 496.3,450.4 492.3,444.3 488.3,446.3 480.2,439.3" fill="#ffff3c" /><polygon points="462.2,444.3 466.2,438.3 469.2,442.3 467.2,447.4" fill="#ffff3c" /><polygon points="471.2,438.3 475.2,436.3 476.2,441.3 473.2,443.3" fill="#ffff3c" /><polygon points="479.0,429.0 486.0,431.0 491.0,435.0 486.0,438.1 479.0,440.1" fill="#ffff3c" /><polygon points="492.0,438.1 500.1,433.0 506.1,434.0 506.1,429.0 507.1,419.0 592.3,419.0 591.3,430.0 589.3,440.1 592.3,444.1 596.3,450.1 597.4,456.1 592.3,460.1 586.3,455.1 580.3,454.1 572.3,458.1 566.3,461.1 560.2,456.1 566.3,452.1 570.3,447.1 562.2,450.1 556.2,446.1 546.2,442.1 538.2,441.1 530.2,440.1 520.1,443.1 512.1,446.1 504.1,447.1 496.0,450.1 495.0,444.1" fill="#ffff3c" /><polygon points="598.4,419.0 640.5,419.0 640.5,448.1 634.5,454.1 628.4,453.1 620.4,452.1 612.4,458.1 608.4,463.1 607.4,470.2 603.4,473.2 598.4,469.1 597.4,459.1 600.4,454.1 598.4,444.1 597.4,432.0" fill="#ffff3c" /><polygon points="610.4,467.1 614.4,461.1 620.4,459.1 623.4,463.1 618.4,470.2 612.4,473.2" fill="#ffff3c" /><polygon points="624.8,468.1 628.4,464.1 630.9,468.1 628.0,471.8" fill="#ffff3c" /><polygon points="533.2,471.2 540.2,467.1 550.2,459.1 554.2,466.1 551.2,474.2 544.2,473.2 538.2,475.2 535.2,480.2 533.2,477.2" fill="#ffff3c" /><polygon points="544.2,484.2 550.2,478.2 557.2,475.2 560.2,481.2 563.2,485.2 557.2,484.2 550.2,487.2" fill="#ffff3c" /><polygon points="562.2,474.2 565.3,471.2 568.3,475.2 572.3,476.2 568.3,478.2 563.2,478.2" fill="#ffff3c" /><polygon points="539.2,458.1 542.2,456.1 544.6,459.1 541.8,461.7" fill="#ffff3c" /><polygon points="554.6,462.1 556.6,460.1 558.2,463.1 556.2,464.5" fill="#ffff3c" /><polygon points="570.3,484.2 571.9,482.6 573.3,484.6 571.7,486.2" fill="#ffff3c" /><polygon points="613.4,419.0 630.5,419.0 629.4,426.0 624.4,431.0 618.4,430.0 614.4,425.0" fill="#00f000" /><polygon points="530.2,430.0 538.2,428.0 542.2,433.0 544.2,439.1 538.2,442.1 531.2,440.1 529.1,435.0" fill="#ffd23c" /><polygon points="527.1,527.3 530.2,522.3 540.2,521.3 548.2,516.3 555.2,513.9 560.2,516.3 571.3,517.3 573.3,522.3 568.3,525.3 559.2,524.3 556.2,528.3 550.2,529.3 545.2,533.3 539.2,537.4 534.2,532.3 530.2,533.3" fill="#3cffff" /><polygon points="529.1,565.4 534.2,562.4 538.2,561.4 537.2,568.4 529.1,568.4" fill="#3cffff" /><polygon points="596.3,529.3 600.4,526.3 602.0,535.3 597.4,534.3" fill="#3cffff" /><polygon points="598.2,79.2 601.2,80.2 608.2,80.2 616.2,77.2 624.3,75.2 620.2,68.2 626.3,66.2 634.3,62.2 640.3,61.2 642.3,53.2 646.3,56.2 652.3,60.2 660.4,66.2 662.4,74.2 658.4,80.2 657.4,86.3 662.4,92.3 660.4,98.3 665.4,104.3 676.4,110.3 680.4,108.3 678.4,102.3 670.4,98.3 666.4,92.3 665.4,84.3 670.4,80.2 674.4,76.2 678.4,78.2 672.4,74.2 673.4,70.2 684.4,69.2 688.4,67.2 695.5,72.2 698.5,79.2 700.5,84.3 742.6,104.3 742.6,-2.0 540.0,-2.0 540.0,27.1 598.2,27.1" fill="#00b400" /><polygon points="608.2,60.2 612.2,50.2 620.2,43.1 630.3,38.1 640.3,35.1 648.3,33.1 656.3,31.1 664.4,30.1 672.4,34.1 678.4,40.1 684.4,48.1 692.5,56.2 698.5,64.2 706.5,72.2 720.5,76.2 728.6,84.3 742.6,92.3 742.6,-2.0 540.0,-2.0 540.0,27.1 606.2,27.1" fill="#00d200" /><polygon points="609.2,46.1 616.2,40.1 624.3,37.1 634.3,32.1 644.3,28.1 652.3,25.1 664.4,24.1 672.4,26.1 680.4,34.1 688.4,44.1 696.5,54.2 704.5,60.2 716.5,60.2 728.6,58.2 742.6,56.2 742.6,-2.0 540.0,-2.0 540.0,27.1 608.2,27.1" fill="#00f000" /><polygon points="560.1,70.2 576.1,69.2 590.2,71.2 598.2,76.2 590.2,74.2 576.1,72.2 562.1,72.6" fill="#00b400" /><polygon points="592.2,20.1 598.2,12.0 606.2,4.0 610.2,2.0 654.3,2.0 668.4,2.0 672.4,12.0 674.4,18.1 668.4,22.1 660.4,19.1 654.3,22.1 648.3,25.1 640.3,28.1 636.3,32.1 630.3,30.1 626.3,24.1 620.2,28.1 616.2,36.1 610.2,34.1 609.2,26.1 614.2,22.1 610.2,20.1 600.2,22.1" fill="#ffff3c" /><polygon points="620.2,24.1 626.3,22.1 631.3,25.1 627.3,30.1 622.2,29.1" fill="#00f000" /><polygon points="608.2,2.0 652.3,2.0 648.3,8.0 640.3,6.0 630.3,8.0 620.2,7.0 612.2,8.0" fill="#ffd23c" /><polygon points="568.1,7.0 571.1,4.0 574.5,7.6 571.5,11.0" fill="#ffff3c" /><polygon points="575.1,11.0 579.1,7.0 583.1,11.0 579.1,15.0" fill="#ffff3c" /><polygon points="589.1,4.0 591.2,2.4 592.6,5.6 590.2,7.0" fill="#ffff3c" /><polygon points="585.1,16.0 588.1,19.1 586.1,21.1 583.1,19.1" fill="#ffff3c" /><polygon points="689.4,26.1 696.5,22.1 702.5,26.1 700.5,32.1 694.5,34.1 690.5,30.1" fill="#ffff3c" /><polygon points="699.5,45.1 702.5,41.1 706.5,45.1 702.9,49.1" fill="#ffff3c" /><polygon points="707.5,53.2 711.5,49.1 717.5,57.2 714.5,61.2 710.5,58.2" fill="#ffff3c" /><polygon points="677.4,35.1 680.4,31.1 683.4,35.1 680.4,40.1" fill="#ffff3c" /><polygon points="685.4,36.1 687.4,33.1 690.1,36.1 687.4,39.1" fill="#ffff3c" /><polygon points="722.5,45.1 726.6,44.1 726.6,49.1 722.9,49.7" fill="#ffff3c" /><polygon points="685.4,15.0 688.4,13.0 690.5,15.6 688.0,17.7" fill="#ffff3c" /><polygon points="707.5,32.1 710.5,30.1 713.5,32.1 710.5,34.1" fill="#ffff3c" /><polygon points="700.5,12.0 706.5,18.1 712.5,20.1 720.5,22.1 716.5,23.1 712.5,26.1 704.5,24.1 700.5,20.1" fill="#ffff3c" /><polygon points="716.5,23.1 742.6,23.1 742.6,30.1 732.6,31.1 724.6,28.1 718.5,26.1" fill="#ffd23c" /><polygon points="677.4,6.0 684.0,6.0 684.0,18.1 677.4,18.1" fill="#c8f5aa" /><polygon points="662.0,49.1 669.0,49.1 669.0,57.2 662.0,57.2" fill="#c8f5aa" /><polygon points="673.0,62.2 680.0,62.2 680.0,69.8 673.0,69.8" fill="#c8f5aa" /><polygon points="655.3,2.4 664.4,2.4 664.4,9.0 655.3,9.0" fill="#c8f5aa" /><polygon points="657.4,103.3 661.4,101.3 664.0,104.3 662.8,107.3 658.0,107.9" fill="#00b400" /><polygon points="631.3,100.3 635.9,100.3 635.9,105.9" fill="#00b400" /><polygon points="600.2,58.2 604.2,54.2 607.2,60.2 606.2,68.2 602.2,66.2" fill="#00d200" /><clipPath id="c10"><rect x="740" y="0" width="180" height="147"/></clipPath><g clip-path="url(#c10)"><polygon points="719.0,-1.0 921.6,-1.0 921.6,148.4 789.2,148.4 789.2,109.3 719.0,109.3" fill="#00d200" /><polygon points="796.2,20.1 804.3,18.1 820.3,16.0 840.4,14.0 860.4,12.0 880.5,16.0 884.5,30.1 878.5,40.1 870.5,50.2 860.4,60.2 850.4,66.2 840.4,68.2 832.3,76.2 820.3,80.2 804.3,80.2 798.2,76.2 802.2,68.2 794.2,60.2 792.2,48.1 796.2,36.1" fill="#00f000" /><polygon points="720.0,20.1 740.1,22.1 760.1,24.1 780.2,20.1 796.2,20.1 796.2,36.1 786.2,40.1 776.2,38.1 764.1,34.1 752.1,32.1 736.0,36.1 720.0,40.1" fill="#00f000" /><polygon points="728.0,58.2 736.0,48.1 746.1,40.1 756.1,38.1 766.1,42.1 772.2,52.2 780.2,60.2 788.2,68.2 796.2,80.2 800.2,88.3 804.3,96.3 816.3,100.3 819.3,108.3 820.3,118.4 800.2,120.4 780.2,117.4 770.2,108.3 772.2,96.3 770.2,88.3 760.1,80.2 750.1,76.2 740.1,70.2 732.0,66.2" fill="#00b400" /><polygon points="796.2,80.2 804.3,80.2 814.3,84.3 824.3,88.3 832.3,80.2 840.4,70.2 850.4,68.2 860.4,62.2 869.4,64.2 868.4,74.2 864.4,80.2 856.4,84.3 848.4,88.3 845.4,96.3 844.4,104.3 840.4,109.3 836.3,108.3 828.3,104.3 820.3,102.3 816.3,100.3 808.3,94.3 800.2,88.3" fill="#00b400" /><polygon points="780.2,2.0 824.3,2.0 820.3,8.0 812.3,12.0 804.3,18.1 796.2,16.0 788.2,10.0" fill="#00b400" /><polygon points="880.5,34.1 886.5,40.1 892.5,44.1 896.5,40.1 900.5,46.1 908.6,54.2 921.6,64.2 921.6,69.2 914.6,62.2 908.6,58.2 900.5,52.2 896.5,46.1 892.5,50.2 886.5,46.1 883.5,40.1" fill="#00b400" /><polygon points="820.3,118.4 819.3,108.3 816.3,100.3 820.3,102.3 828.3,104.3 836.3,108.3 840.4,109.3 844.4,104.3 845.4,96.3 848.4,88.3 856.4,84.3 864.4,80.2 868.4,74.2 869.4,64.2 874.5,58.2 880.5,54.2 882.5,48.1 880.5,42.1 883.5,40.1 886.5,46.1 892.5,50.2 896.5,46.1 900.5,52.2 908.6,58.2 914.6,62.2 921.6,68.2 921.6,148.4 820.3,148.4" fill="#3cffff" /><polygon points="804.3,87.3 808.3,90.3 814.3,96.3 820.3,102.3 819.3,105.3 812.3,100.3 806.3,94.3" fill="#3cffff" /><polygon points="772.2,68.2 777.2,67.2 786.2,74.2 786.2,91.3 782.2,91.3 777.2,80.2" fill="#3cffff" /><polygon points="870.5,88.3 880.5,86.3 883.5,84.3 884.5,88.3 894.5,86.3 895.5,89.3 886.5,96.3 880.5,104.3 876.5,112.3 872.5,120.4 868.4,126.4 860.4,127.4 862.4,120.4 858.4,114.3 853.4,109.3 856.4,104.3 864.4,106.3 869.4,98.3" fill="#3c96ff" /><polygon points="883.5,66.2 887.5,63.2 890.5,67.2 887.5,71.2" fill="#00b400" /><polygon points="850.4,116.3 853.4,114.3 855.4,117.4 852.8,120.0" fill="#00b400" /><polygon points="896.5,112.3 900.5,109.9 904.6,113.3 901.5,118.4 896.9,116.3" fill="#00b400" /><polygon points="907.6,120.4 910.6,112.3 913.6,110.3 915.6,116.3 921.6,118.4 921.6,124.4 912.6,128.4 907.6,131.4 906.6,125.4" fill="#00b400" /><polygon points="913.6,91.3 917.6,88.3 921.6,91.3 917.6,95.3" fill="#00b400" /><polygon points="880.5,138.4 883.5,136.4 886.1,138.8 883.5,141.4" fill="#00b400" /><polygon points="763.1,17.1 767.1,11.0 770.2,15.0 776.2,14.0 781.2,15.0 778.2,20.1 776.2,26.1 772.2,24.1 769.1,20.1 766.1,21.1" fill="#ffff3c" /><polygon points="783.2,20.1 786.2,18.1 788.2,24.1 785.2,26.1" fill="#ffff3c" /><polygon points="807.3,36.1 814.3,34.1 816.3,36.1 810.3,41.1 807.3,40.1" fill="#ffff3c" /><polygon points="819.3,29.1 823.3,25.7 826.3,28.1 822.3,31.7" fill="#ffff3c" /><polygon points="831.3,33.1 835.3,29.7 838.4,33.1 842.4,30.1 845.4,35.1 840.4,38.1 842.4,43.1 850.4,44.1 853.4,47.1 848.4,50.2 840.4,48.1 834.3,43.1 835.3,38.1 831.3,37.1" fill="#ffff3c" /><polygon points="719.0,23.1 728.0,22.1 742.1,20.1 748.1,16.0 756.1,15.0 753.1,22.1 744.1,26.1 738.1,30.1 730.0,29.1 724.0,33.1 719.0,32.1" fill="#ffff3c" /><polygon points="848.4,2.0 921.6,2.0 921.6,60.2 912.6,50.2 904.6,40.1 896.5,38.1 890.5,36.1 884.5,30.1 876.5,30.1 868.4,34.1 862.4,30.1 864.4,24.1 870.5,19.1 872.5,12.0 864.4,14.0 858.4,10.0 850.4,8.0" fill="#ffff3c" /><polygon points="841.4,36.1 846.4,34.1 849.4,39.1 844.4,42.1" fill="#00b400" /><polygon points="720.0,24.1 732.0,23.1 742.1,25.1 736.0,29.1 726.0,30.1 720.0,30.1" fill="#ffd23c" /><polygon points="866.4,8.0 872.5,2.0 892.5,2.0 894.5,12.0 900.5,18.1 910.6,24.1 921.6,28.1 921.6,40.1 912.6,38.1 900.5,34.1 890.5,32.1 880.5,28.1 874.5,22.1 878.5,16.0 872.5,14.0" fill="#ffd23c" /><polygon points="878.5,2.0 886.5,3.0 885.5,9.0 880.5,10.0" fill="#ffa000" /><polygon points="896.5,20.1 904.6,21.1 910.6,26.1 918.6,30.1 921.6,35.1 912.6,34.1 902.5,30.1 897.5,25.1" fill="#ffa000" /><polygon points="894.5,2.0 921.6,2.0 921.6,19.1 912.6,20.1 904.6,16.0 901.5,10.0 896.5,8.0" fill="#00f000" /><polygon points="906.6,57.2 911.6,57.2 911.6,65.2 906.6,65.2" fill="#c8f5aa" /><polygon points="852.4,128.4 876.5,128.4 878.5,136.4 860.4,138.4 854.4,133.4" fill="#c8f5aa" /></g><polygon points="661.5,151.2 670.9,144.3 676.0,148.6 680.3,149.4 679.4,158.0 682.0,164.8 682.0,156.3 688.0,154.6 686.3,146.0 681.2,142.6 684.2,137.2 687.1,145.2 694.8,146.0 702.5,144.7 706.7,149.4 710.1,142.6 715.3,136.7 721.2,135.0 722.1,130.7 725.5,130.7 725.5,135.0 730.6,139.2 732.3,146.0 736.6,154.6 739.1,166.5 747.6,159.7 752.8,152.9 756.2,154.6 760.4,155.4 757.0,158.8 753.6,158.8 751.9,164.8 745.9,167.3 744.2,175.0 741.7,178.4 735.7,175.0 730.6,173.3 725.5,175.9 722.9,181.8 718.7,179.3 713.5,182.7 705.0,183.5 703.3,187.0 698.2,191.2 697.3,195.5 698.2,198.9 693.1,199.7 688.8,195.5 684.6,192.9 681.2,188.7 675.2,187.0 672.6,181.8 671.8,173.3 666.7,168.2 664.1,158.0" fill="#3c96ff" /><polygon points="670.1,155.4 672.3,153.7 674.3,155.4 672.3,157.1" fill="#3cffff" /><polygon points="689.7,151.2 691.7,149.1 693.9,151.2 691.7,153.7" fill="#3cffff" /><polygon points="755.3,137.5 759.6,134.1 764.7,139.2 764.7,142.6 769.8,145.2 774.9,141.8 781.7,145.2 781.7,151.2 776.6,151.2 776.6,155.4 771.5,152.9 766.4,152.9 763.0,149.4 759.6,146.0 756.2,144.3" fill="#3c96ff" /><polygon points="679.4,202.3 683.7,198.9 688.8,202.3 692.2,207.4 688.8,209.1 682.9,207.4" fill="#3c96ff" /><polygon points="699.9,198.9 703.3,197.2 705.0,202.3 702.5,204.9" fill="#3c96ff" /><polygon points="670.9,137.5 672.6,136.1 674.0,138.4 672.3,140.9" fill="#3c96ff" /><polygon points="657.3,163.9 659.0,162.7 660.3,164.8 658.6,166.2" fill="#3c96ff" /><polygon points="739.1,142.3 740.8,140.9 742.0,143.0 740.5,144.7" fill="#3c96ff" /><polygon points="769.0,160.5 771.2,159.7 771.2,165.6 769.0,164.8" fill="#3c96ff" /><polygon points="657.3,103.4 661.5,101.4 663.2,106.0 659.0,107.7" fill="#00b400" /><polygon points="665.8,100.0 672.6,100.0 680.3,106.0 681.2,109.4 676.9,110.2 671.8,105.1" fill="#00b400" /><polygon points="667.5,209.1 670.1,204.9 671.8,210.8 673.5,215.9 670.1,219.4 667.5,215.9" fill="#00b400" /><polygon points="655.6,180.1 658.1,178.8 661.5,181.5 658.1,183.5" fill="#00b400" /><polygon points="705.9,104.3 707.1,104.3 707.1,113.6 705.9,113.6" fill="#00b400" /><polygon points="671.2,137.6 672.8,136.0 673.9,138.4 672.5,140.8" fill="#3c96ff" /><polygon points="656.8,164.0 658.4,162.7 660.0,164.3 658.4,165.9" fill="#3c96ff" /><polygon points="614.4,96.0 620.0,95.2 620.0,96.8 614.4,97.1" fill="#3c96ff" /><polygon points="656.8,103.2 660.8,100.8 663.7,103.2 662.4,107.2 657.3,107.7" fill="#00b400" /><polygon points="631.2,100.0 636.0,100.0 636.0,105.6" fill="#00b400" /><clipPath id="c11"><rect x="920" y="0" width="81" height="177"/></clipPath><g clip-path="url(#c11)"><polygon points="913.6,60.0 918.4,69.6 928.0,72.0 935.2,74.4 942.4,79.2 949.6,81.6 959.2,88.8 968.8,93.6 980.8,96.0 990.4,100.8 1002.4,103.2 1002.4,-1.2 904.0,-1.2 904.0,54.0" fill="#00b400" /><polygon points="913.6,51.6 923.2,60.0 932.8,68.4 944.8,74.4 954.4,79.2 964.0,85.2 976.0,90.0 988.0,94.8 1002.4,97.2 1002.4,-1.2 904.0,-1.2 904.0,48.0" fill="#00f000" /><polygon points="894.4,2.4 901.6,14.4 913.6,21.6 928.0,24.0 937.6,40.8 940.0,45.6 932.8,48.0 935.2,57.6 942.4,67.2 952.0,72.0 961.6,74.4 968.8,81.6 976.0,88.8 985.6,91.2 1002.4,96.0 1002.4,100.8 985.6,96.0 976.0,94.8 968.8,93.6 961.6,88.8 952.0,81.6 944.8,76.8 937.6,72.0 930.4,67.2 925.6,60.0 918.4,57.6 913.6,50.4 906.4,43.2 896.8,38.4 889.6,36.0 880.0,31.2 875.2,26.4 875.2,2.4" fill="#ffff3c" /><polygon points="894.4,16.8 904.0,21.6 913.6,26.4 923.2,33.6 928.0,43.2 925.6,55.2 918.4,51.6 913.6,43.2 908.8,33.6 899.2,31.2 889.6,26.4" fill="#ffd23c" /><polygon points="896.8,21.6 906.4,24.0 916.0,30.0 919.6,34.8 913.6,36.0 904.0,30.0 898.0,26.4" fill="#ffa000" /><polygon points="916.0,-1.2 1002.4,-1.2 1002.4,14.4 988.0,12.0 976.0,19.2 964.0,14.4 952.0,16.8 940.0,12.0 928.0,9.6" fill="#00d200" /><polygon points="928.0,-1.2 985.6,-1.2 980.8,7.2 968.8,12.0 956.8,9.6 942.4,7.2" fill="#00b400" /><polygon points="938.8,31.2 944.8,27.6 950.8,31.2 944.8,36.0" fill="#ffff3c" /><polygon points="991.6,24.0 995.2,21.1 998.1,24.0 995.2,26.9" fill="#ffff3c" /><polygon points="949.6,72.0 956.8,69.6 961.6,73.2 955.6,76.8" fill="#ffff3c" /><polygon points="941.9,31.2 944.8,29.3 947.7,31.2 944.8,33.6" fill="#ffa000" /><polygon points="958.0,61.9 965.2,61.9 965.2,69.6 958.0,69.6" fill="#c8f5aa" /><polygon points="977.2,66.0 990.9,66.0 990.9,73.2 977.2,73.2" fill="#c8f5aa" /><polygon points="905.9,57.1 911.7,57.1 911.7,65.3 905.9,65.3" fill="#c8f5aa" /><polygon points="929.2,76.8 934.0,74.9 942.4,79.2 937.6,84.0 931.6,82.8" fill="#00b400" /><polygon points="956.8,120.0 964.0,118.8 971.2,124.8 979.6,124.8 980.8,130.8 973.6,134.4 971.2,141.6 977.2,144.0 980.8,153.6 976.0,158.4 968.8,148.8 964.0,144.0 959.2,146.4 952.0,147.6 950.8,141.6 955.6,135.6 959.2,129.6" fill="#3c96ff" /><polygon points="986.8,132.0 991.6,131.5 992.8,138.0 988.0,139.7" fill="#3c96ff" /><polygon points="952.0,154.8 959.2,153.6 958.0,160.8 955.6,168.0 959.2,171.6 952.0,172.8 947.2,168.0 943.6,163.2 949.6,160.8" fill="#3c96ff" /><polygon points="926.8,150.0 929.2,148.3 930.9,151.7 928.0,153.6" fill="#00b400" /><polygon points="923.2,163.2 928.0,162.7 928.0,165.6 923.7,165.6" fill="#00b400" /></g><polygon points="906.9,231.1 913.7,227.0 920.5,221.5 923.3,228.3 921.9,236.5 927.4,244.7 930.1,252.9 927.4,261.1 921.9,265.2 916.5,263.8 912.4,252.9 909.6,242.0" fill="#00b400" /><polygon points="909.6,235.2 915.1,233.8 920.5,242.0 926.0,250.2 927.4,258.4 921.9,263.8 917.0,262.5 913.7,251.5" fill="#00d200" /><polygon points="913.7,248.8 919.2,247.4 924.6,252.9 925.2,259.7 920.5,263.3 916.5,259.7" fill="#00f000" /><polygon points="926.0,151.9 927.9,149.7 930.1,152.4 927.9,154.6" fill="#00b400" /><polygon points="922.7,164.2 927.9,163.3 927.9,165.5 922.7,166.1" fill="#00b400" /><polygon points="924.6,186.0 927.4,184.1 930.1,186.8 927.4,189.0" fill="#00b400" /><polygon points="906.9,125.9 909.6,116.4 913.7,110.9 915.1,117.7 920.5,119.1 921.9,123.2 917.8,127.3 912.4,130.0 907.7,130.6" fill="#00b400" /><polygon points="896.0,112.3 900.6,110.4 904.2,113.7 901.4,116.9 896.8,116.4" fill="#00b400" /><polygon points="881.0,138.2 883.1,136.0 885.9,138.8 883.1,141.5" fill="#00b400" /><polygon points="885.1,143.1 887.8,141.0 890.5,143.7 887.8,145.9" fill="#00b400" /><polygon points="850.9,116.9 853.1,115.0 855.3,117.5 853.1,119.7" fill="#00b400" /><polygon points="950.6,145.1 957.4,127.3 961.5,120.5 968.3,121.8 971.1,125.9 979.2,124.6 982.0,128.7 975.2,134.1 971.1,141.0 977.9,143.7 982.0,153.2 977.9,158.7 971.1,151.9 967.0,146.4 961.5,147.8 956.0,149.1" fill="#3c96ff" /><polygon points="943.2,163.3 949.2,161.4 951.9,154.6 960.1,154.6 956.0,164.2 958.8,172.4 949.2,173.7 947.0,168.3" fill="#3c96ff" /><polygon points="986.1,132.8 990.2,130.6 992.9,135.5 989.6,139.6 986.3,137.7" fill="#3c96ff" /><polygon points="936.9,250.2 945.1,252.9 952.5,263.8 954.1,274.7 949.2,283.5 941.6,285.1 936.9,278.8 935.6,266.6" fill="#c8f5aa" /><polygon points="938.8,262.5 945.1,261.6 950.6,267.9 951.4,276.1 947.8,280.8 941.6,281.6 938.8,276.1" fill="#00d200" /><polygon points="940.5,265.2 945.1,264.4 948.7,270.6 948.7,277.5 943.8,279.7 940.5,274.7" fill="#00f000" /><clipPath id="c12"><rect x="0" y="330" width="100" height="230"/></clipPath><g clip-path="url(#c12)"><polygon points="-1.5,330.0 120.0,330.0 120.0,549.9 -1.5,549.9" fill="#ffff3c" /><polygon points="-1.5,390.0 6.0,388.5 12.0,369.0 18.0,360.0 30.0,361.5 36.0,372.0 40.5,381.0 36.0,390.0 33.0,402.0 25.5,411.0 18.0,420.0 13.5,429.0 18.0,435.0 30.0,444.0 37.5,450.0 33.0,459.0 24.0,450.0 15.0,459.0 6.0,465.0 -1.5,466.5" fill="#00f000" /><polygon points="42.0,364.5 48.0,367.5 60.0,378.0 73.5,381.0 77.4,390.0 77.4,402.0 72.0,409.5 60.0,412.5 51.0,411.0 45.0,405.0 40.5,397.5 43.5,390.0 46.5,381.0 42.0,375.0" fill="#00f000" /><polygon points="27.0,424.5 33.0,423.6 36.0,427.5 31.5,430.5" fill="#00f000" /><polygon points="30.0,435.0 34.5,433.5 37.5,437.4 32.4,439.5" fill="#00f000" /><polygon points="42.0,433.5 51.0,427.5 55.5,430.5 52.5,441.0 48.0,447.0 42.0,445.5 40.5,438.0" fill="#00f000" /><polygon points="23.4,453.0 27.0,448.5 36.0,450.0 39.0,454.5 33.0,462.0 28.5,468.0 24.0,462.0" fill="#00f000" /><polygon points="30.0,474.0 39.0,463.5 42.0,468.0 37.5,477.0" fill="#00f000" /><polygon points="-1.5,496.5 7.5,486.0 12.0,502.5 6.0,504.0 -1.5,501.0" fill="#00f000" /><polygon points="27.0,453.6 31.5,452.4 30.0,458.4" fill="#ffff3c" /><polygon points="13.5,420.0 24.0,420.0 24.0,432.0 13.5,432.0" fill="#c8f5aa" /></g><clipPath id="c13"><rect x="655" y="430" width="65" height="130"/></clipPath><g clip-path="url(#c13)"><polygon points="659.2,433.6 720.6,433.6 720.6,556.4 659.2,556.4" fill="#00f000" /><polygon points="667.7,522.3 683.1,525.7 696.7,532.6 693.3,546.2 679.7,554.7 671.1,551.3 664.3,536.0" fill="#00d200" /><polygon points="669.4,536.0 679.7,536.0 689.9,542.8 683.1,553.0 672.9,549.6" fill="#00b400" /><polygon points="674.6,479.7 683.1,474.6 689.9,479.7 684.8,484.8 676.3,486.5" fill="#ffff3c" /><polygon points="671.1,491.6 676.3,493.3 679.7,500.2 672.9,501.9" fill="#ffff3c" /><polygon points="688.2,501.9 691.6,498.4 694.0,505.3 689.9,507.0" fill="#ffff3c" /><polygon points="700.1,454.1 703.5,450.7 707.0,455.8 702.9,458.2" fill="#ffff3c" /><polygon points="708.7,454.1 712.1,452.4 713.8,464.3 710.4,462.6" fill="#ffff3c" /><polygon points="696.7,505.3 700.1,503.6 700.8,508.7" fill="#ffff3c" /></g><polygon points="447.1,524.0 456.3,529.1 459.7,539.4 463.1,556.4 468.2,573.5 473.3,587.1 477.8,600.8 471.6,600.8 464.8,580.3 456.3,570.1 451.2,556.4 447.7,539.4" fill="#3cffff" /><polygon points="450.5,544.5 456.3,542.8 459.7,554.7 463.1,566.7 462.1,575.2 456.3,566.7 452.2,556.4" fill="#3c96ff" /><polygon points="471.6,597.4 475.7,597.4 479.1,617.8 475.7,619.5" fill="#3cffff" /><polygon points="429.0,471.2 437.5,464.3 451.2,467.7 464.8,471.2 478.4,476.3 471.6,484.8 454.6,483.1 440.9,481.4 432.4,479.7" fill="#00b400" /><polygon points="464.8,580.3 481.9,580.3 502.3,583.7 512.6,590.5 509.1,597.4 488.7,597.4 468.2,593.9" fill="#00b400" /><polygon points="500.6,532.6 512.6,525.7 529.6,524.0 543.2,532.6 560.3,536.0 570.5,546.2 567.1,556.4 553.5,563.2 536.4,576.9 519.4,573.5 509.1,563.2 502.3,549.6" fill="#00b400" /><polygon points="570.5,518.9 584.2,512.1 601.2,513.8 604.0,532.6 599.5,542.8 584.2,539.4 573.9,532.6" fill="#00b400" /><polygon points="534.7,501.9 550.1,496.7 570.5,495.0 584.2,488.2 586.9,501.9 577.4,510.4 560.3,512.1 543.2,510.4" fill="#00b400" /><polygon points="451.2,522.3 459.7,518.9 468.2,529.1 473.3,546.2 468.2,556.4 461.4,546.2 456.3,532.6" fill="#00b400" /><polygon points="573.9,554.7 580.8,551.3 584.2,563.2 577.4,570.1 572.2,565.0" fill="#00b400" /><polygon points="434.1,488.2 451.2,486.5 468.2,491.6 485.3,493.3 492.1,508.7 488.7,529.1 478.4,539.4 468.2,532.6 458.0,515.5 444.3,505.3 435.8,498.4" fill="#00f000" /><polygon points="512.6,597.4 536.4,593.9 553.5,600.8 560.3,611.0 546.7,621.2 529.6,624.6 512.6,621.2 505.7,611.0" fill="#00f000" /><polygon points="536.4,549.6 550.1,546.2 560.3,553.0 553.5,559.8 539.8,559.8" fill="#00f000" /><polygon points="248.2,98.9 265.3,88.7 278.9,81.9 292.6,73.3 306.2,66.5 319.8,61.4 333.5,59.7 350.5,63.1 360.8,56.3 374.4,51.2 384.6,52.9 393.2,58.0 401.7,56.3 408.5,52.9 415.3,47.7 420.5,43.7 429.0,34.1 429.0,13.6 292.6,13.6 248.2,68.2" fill="#00b400" /><polygon points="256.7,90.4 267.0,80.2 278.9,73.3 290.8,66.5 304.5,59.7 318.1,54.6 333.5,51.2 347.1,54.6 357.4,49.5 371.0,42.6 384.6,44.3 398.3,47.7 405.1,40.9 418.7,34.1 429.0,34.1 429.0,13.6 292.6,13.6 248.2,68.2" fill="#00d200" /><polygon points="265.3,73.3 273.8,64.8 282.3,61.4 292.6,58.0 302.8,52.9 314.7,47.7 326.7,46.0 336.9,40.9 350.5,40.9 364.2,34.1 381.2,32.4 394.9,34.1 401.7,27.3 418.7,23.9 429.0,13.6 292.6,13.6 261.9,61.4" fill="#00f000" /><polygon points="294.3,32.4 299.4,34.1 307.9,40.9 302.8,44.3 301.1,49.5 296.0,42.6 293.2,37.5" fill="#ffff3c" /><polygon points="398.3,37.5 405.1,32.4 415.3,34.1 418.7,42.6 411.9,51.2 403.4,54.6 398.3,47.7" fill="#00b400" /><polygon points="488.7,66.5 492.1,59.7 500.6,56.3 512.5,56.3 521.1,59.7 521.1,69.9 512.5,66.5 500.6,64.8 492.1,66.5" fill="#00b400" /><polygon points="430.7,61.4 442.6,56.3 446.0,58.0 435.8,64.1" fill="#00b400" /><polygon points="489.3,63.8 494.8,57.6 503.6,56.1 512.4,59.4 519.0,63.8 520.1,71.5 512.4,72.6 513.5,67.1 506.9,64.9 497.0,64.9 490.4,67.1" fill="#00b400" /><polygon points="432.1,60.5 437.6,57.6 444.2,58.3 442.0,61.6 434.3,63.8" fill="#00b400" /><polygon points="528.9,66.0 538.8,67.1 538.8,69.3 530.0,68.6" fill="#00b400" /><polygon points="560.8,70.4 574.0,69.3 578.4,71.5 565.2,73.7" fill="#00b400" /><polygon points="268.7,0.0 343.7,0.0 343.7,20.5 268.7,25.6" fill="#00f000" /><polygon points="294.3,15.3 299.4,14.3 302.1,20.5 297.7,24.6 293.6,21.1" fill="#ffff3c" /><polygon points="318.1,5.1 320.5,2.7 323.2,8.5 319.8,11.9" fill="#ffff3c" /><polygon points="431.0,6.6 457.4,6.6 457.4,22.0 431.0,22.0" fill="#00f000" /><polygon points="439.8,9.9 453.0,10.6 453.0,15.0 447.5,13.6 440.9,12.8" fill="#ffff3c" /><polygon points="492.6,0.0 521.2,0.0 521.2,25.3 492.6,25.3" fill="#00f000" /><polygon points="499.2,1.1 506.9,1.1 505.8,5.5 500.3,4.8" fill="#ffff3c" /><polygon points="514.6,30.8 537.7,30.8 537.7,37.8 514.6,37.8" fill="#c8f5aa" /><polygon points="580.6,30.8 599.3,30.8 599.3,39.6 580.6,39.6" fill="#c8f5aa" /><polygon points="245.0,263.8 253.8,260.0 262.5,262.5 268.8,266.2 275.0,272.5 280.0,275.0 290.0,280.0 300.0,281.2 315.0,280.0 335.0,282.5 335.0,292.5 282.5,298.8 262.5,285.0 241.2,268.8" fill="#00d200" /><polygon points="247.5,266.2 255.0,262.5 262.5,265.5 268.8,271.2 275.0,277.5 282.5,282.5 282.5,298.8 262.5,285.0 242.5,270.0" fill="#00f000" /><polygon points="286.2,271.2 288.8,270.0 289.5,275.0 286.8,275.5" fill="#3cffff" /><polygon points="293.8,270.0 298.8,269.5 299.5,273.8 294.5,273.8" fill="#3cffff" /><polygon points="305.0,275.0 308.8,274.5 309.0,280.0 305.5,280.0" fill="#3cffff" /><polygon points="336.2,266.2 342.5,266.2 343.8,285.0 336.2,286.2" fill="#c8f5aa" /><polygon points="375.0,272.5 382.5,275.0 390.0,283.8 400.0,288.8 407.5,290.0 407.5,298.8 380.0,298.8 378.8,285.0" fill="#00d200" /><polygon points="300.0,217.5 302.5,213.8 303.8,218.8 303.0,225.0 300.0,224.5" fill="#00b400" /><polygon points="307.5,237.5 311.2,233.8 316.2,230.0 317.5,237.5 318.8,246.2 315.0,248.8 312.5,242.5 307.5,241.2" fill="#00b400" /><polygon points="306.2,227.5 310.0,227.0 310.0,231.2 306.2,231.2" fill="#00b400" /><polygon points="318.8,243.8 323.8,246.2 321.2,251.2 318.8,248.8" fill="#00b400" /><polygon points="281.2,256.2 283.8,253.8 286.2,257.5 283.8,262.5" fill="#00b400" /><polygon points="401.2,232.5 403.8,230.0 406.2,233.0 403.8,235.5" fill="#00b400" /><polygon points="393.8,245.0 396.2,241.2 398.8,245.5 396.2,249.5" fill="#00b400" /><polygon points="393.8,258.8 395.8,257.0 397.5,259.2 395.5,261.0" fill="#00b400" /><polygon points="353.0,218.8 355.0,217.0 357.0,219.5 355.0,222.0" fill="#00b400" /><polygon points="370.0,241.2 376.2,241.2 376.2,248.8 370.0,248.8" fill="#c8f5aa" /><polygon points="437.5,211.2 450.0,211.2 450.0,227.5 443.8,227.5 443.8,221.2 437.5,221.2" fill="#c8f5aa" /><polygon points="401.0,232.8 403.1,230.4 405.3,232.8 403.1,235.2" fill="#00b400" /><polygon points="392.2,245.6 395.4,240.8 398.9,245.6 395.4,249.9" fill="#00b400" /><polygon points="393.8,257.9 395.4,256.3 397.0,258.4 395.4,260.0" fill="#00b400" /><polygon points="369.8,240.8 376.2,240.8 376.2,248.8 369.8,248.8" fill="#c8f5aa" /><polygon points="437.0,211.2 448.2,211.2 448.2,220.0 454.6,220.0 454.6,227.2 441.8,227.2 437.0,223.2" fill="#c8f5aa" /><polygon points="441.0,217.6 444.2,216.8 449.8,223.2 452.2,226.4 446.6,226.4 442.6,223.2" fill="#ececec" /><polygon points="629.0,202.4 632.2,200.0 637.8,207.2 635.4,209.6 632.2,207.2" fill="#00b400" /><polygon points="667.4,209.6 669.8,204.8 672.2,209.6 673.8,214.4 669.8,220.0 667.4,216.0" fill="#00b400" /><polygon points="656.2,180.8 658.6,179.2 661.0,180.8 658.6,183.2" fill="#00b400" /><polygon points="603.4,270.4 605.8,268.0 609.0,271.2 605.8,273.9" fill="#00b400" /><polygon points="595.4,232.0 601.0,232.0 601.0,240.8 595.4,240.8" fill="#c8f5aa" /><polygon points="613.0,228.0 624.2,228.0 624.2,236.8 613.0,236.8" fill="#c8f5aa" /><polygon points="616.5,229.6 621.0,229.6 621.0,234.4 618.6,236.0 616.5,234.4" fill="#ececec" /><polygon points="583.4,318.0 589.8,318.0 589.8,326.0 583.4,326.0" fill="#c8f5aa" /><polygon points="557.0,335.6 563.4,335.6 563.4,342.8 557.0,342.8" fill="#c8f5aa" /><polygon points="606.6,296.4 612.2,296.4 612.2,308.4 606.6,308.4" fill="#c8f5aa" /><polygon points="621.0,274.8 626.6,274.8 626.6,282.8 621.0,282.8" fill="#c8f5aa" /><polygon points="641.0,309.2 644.2,308.4 645.0,312.4 642.6,315.6" fill="#00b400" /><polygon points="743.9,0.0 743.9,13.6 738.7,18.8 725.0,22.0 711.5,18.8 704.6,10.0 704.0,0.0" fill="#ececec" /><polygon points="294.0,29.0 303.0,34.0 316.0,34.0 330.0,31.0 344.0,25.5 357.0,22.0 385.0,20.5 402.0,20.5 412.0,17.0 422.0,20.5 419.0,31.0 424.0,37.5 419.0,46.0 420.0,47.3 426.6,54.0 437.6,56.0 448.6,58.3 456.3,66.0 464.0,70.4 472.8,73.7 481.6,76.0 489.3,73.7 490.4,63.8 493.7,58.3 502.5,55.0 512.4,58.3 519.0,62.7 527.8,66.0 538.8,68.2 549.8,71.5 558.6,72.6 565.2,68.2 574.0,66.0 582.8,69.3 591.6,70.4 600.4,69.3 601.0,80.0 600.0,93.0 596.0,96.0 592.0,97.6 594.4,108.0 598.4,119.2 603.2,128.8 605.6,135.2 606.4,140.0 613.6,144.8 616.8,152.8 618.4,157.6 617.6,168.8 619.2,177.0 625.0,182.5 632.5,195.0 637.5,205.0 647.5,212.5 657.5,222.5 661.0,232.5 665.0,241.0 675.0,246.0 690.0,246.5 707.0,240.0 719.0,233.5 724.0,236.0 722.0,250.0 714.0,271.0 700.0,291.0 686.0,308.0 669.0,325.0 652.0,342.0 640.0,356.0 635.0,373.0 633.0,390.0 638.0,407.0 642.0,420.0 644.0,440.0 644.0,461.0 635.0,474.0 622.0,483.0 608.0,495.0 599.0,505.0 604.0,519.0 604.0,536.0 598.0,546.0 586.0,556.0 586.0,570.0 577.0,583.0 567.0,597.0 553.0,611.0 540.0,621.0 523.0,626.0 509.0,626.0 489.0,631.0 477.0,624.0 477.0,611.0 472.0,597.0 466.0,580.0 460.0,570.0 453.0,556.0 449.0,536.0 444.0,519.0 436.0,502.0 429.0,485.0 429.0,468.0 434.0,447.0 441.0,434.0 442.0,421.0 437.0,400.0 434.0,387.0 429.0,377.0 419.0,365.0 412.0,353.0 405.0,341.0 408.0,332.0 412.0,322.0 413.0,307.0 407.0,301.0 401.0,296.0 385.0,296.0 378.0,286.0 371.0,281.0 350.0,281.0 337.0,288.0 316.0,290.0 296.0,291.0 282.0,296.0 269.0,286.0 255.0,274.0 243.0,269.0 241.0,261.0 234.0,247.0 226.0,240.0 216.0,230.0 214.0,222.0 209.0,208.0 216.0,194.0 219.0,181.0 214.0,164.0 212.0,150.0 217.0,140.0 226.0,126.0 234.0,109.0 241.0,99.0 253.0,94.0 263.0,85.0 267.0,68.0 272.0,56.0 282.0,48.0 292.0,37.0" fill="none" stroke="#c8f5aa" stroke-width="4" stroke-linejoin="round"/><polygon points="542.0,0.0 545.4,8.8 548.7,16.5 556.4,21.0 560.8,24.0 569.6,21.0 578.4,23.0 587.2,25.3 596.0,23.0 602.6,19.8 609.2,21.0 610.3,28.6 608.1,39.6 607.0,50.6 603.7,61.6 601.5,68.2 599.0,72.0 598.0,90.0 600.0,96.0 604.8,96.8 609.6,104.8 614.4,112.8 617.6,122.4 623.2,128.8 628.8,133.6 631.2,140.0 632.8,149.6 635.2,155.2 641.6,162.4 646.4,168.8 648.8,177.0 655.0,180.0 661.0,190.0 662.5,205.0 663.8,220.0 666.0,226.0 677.0,223.0 694.0,216.6 711.5,209.7 732.0,196.0 752.0,186.0 766.0,170.5 773.0,160.0 779.7,151.8 786.5,143.0 779.7,134.7 769.0,128.0 762.6,121.0 761.0,112.5 752.0,119.0 742.0,126.0 732.0,129.6 725.0,126.0 723.0,117.6 716.6,109.0 709.7,99.0 701.0,88.7 697.8,79.0 701.0,76.7 711.0,78.0 721.7,85.0 728.5,93.8 738.7,100.6 750.0,104.0 760.0,101.0 768.0,102.0 770.0,112.0 780.0,117.0 800.8,119.5 820.0,117.6 836.8,117.0 840.4,122.4 846.4,129.6 856.0,130.8 868.0,129.0 865.6,134.4 857.0,144.0 863.0,153.6 870.4,157.0 880.0,150.0 884.8,146.0 885.0,162.8 887.8,179.0 890.5,195.6 897.3,212.0 904.0,228.0 911.0,247.4 915.0,261.0 920.5,265.7 927.4,261.0 934.0,248.8 938.3,236.5 941.0,220.0 939.7,206.5 945.0,198.0 957.4,187.4 968.3,176.5 979.3,164.0 988.8,154.6 1001.0,147.8 1001.0,0.0" fill="none" stroke="#c8f5aa" stroke-width="4" stroke-linejoin="round"/><polygon points="708.7,438.8 713.8,447.3 717.2,460.9 715.5,474.6 710.4,488.2 705.3,505.3 700.1,522.3 695.0,539.4 689.9,549.6 679.7,553.0 671.1,547.9 666.0,536.0 664.3,522.3 669.4,508.7 672.9,495.0 669.4,484.8 672.9,474.6 683.1,471.2 693.3,464.3 700.1,454.1 705.3,443.9" fill="none" stroke="#c8f5aa" stroke-width="4" stroke-linejoin="round"/><polygon points="-1.5,345.0 4.5,348.0 6.0,355.5 15.0,357.0 27.0,358.5 39.0,358.5 51.0,366.0 61.5,376.5 73.5,379.5 78.0,390.0 78.0,400.5 73.5,411.0 67.5,420.0 60.0,429.0 52.5,442.5 48.0,447.0 47.4,465.0 45.0,486.0 40.5,501.0 34.5,516.0 27.0,526.5 15.0,531.0 -1.5,534.0" fill="none" stroke="#c8f5aa" stroke-width="4" stroke-linejoin="round"/><polygon points="272.1,0.0 270.4,17.1 282.3,18.8 292.6,18.8 297.7,24.6 304.5,20.5 316.4,15.3 330.1,11.9 338.6,5.1 340.3,0.0" fill="none" stroke="#c8f5aa" stroke-width="4" stroke-linejoin="round"/><polygon points="433.2,11.0 439.8,8.8 453.0,9.9 455.2,15.4 453.0,20.9 448.6,19.8 440.9,15.4 434.3,14.3" fill="none" stroke="#c8f5aa" stroke-width="4" stroke-linejoin="round"/><polygon points="493.7,1.1 493.7,8.8 500.3,13.2 503.6,19.8 508.0,20.9 511.3,24.2 512.4,19.8 510.2,13.2 516.8,12.1 519.0,6.6 514.6,1.1" fill="none" stroke="#c8f5aa" stroke-width="4" stroke-linejoin="round"/><polygon points="515.7,31.9 523.4,33.0 530.0,33.0 536.6,34.8 535.5,37.0 527.8,37.0 522.3,35.2 516.8,34.1" fill="none" stroke="#c8f5aa" stroke-width="4" stroke-linejoin="round"/><polygon points="581.7,35.2 587.2,33.4 598.2,31.2 593.8,35.2 589.4,38.5 582.8,38.5" fill="none" stroke="#c8f5aa" stroke-width="4" stroke-linejoin="round"/><polygon points="938.3,251.5 943.8,254.3 950.6,263.8 953.3,273.4 949.2,281.6 942.4,284.3 938.3,278.8 937.0,266.6" fill="none" stroke="#c8f5aa" stroke-width="4" stroke-linejoin="round"/><polygon points="743.9,0.0 743.9,13.6 738.7,18.8 725.0,22.0 711.5,18.8 704.6,10.0 704.0,0.0" fill="none" stroke="#c8f5aa" stroke-width="3"/><polyline points="582.1,79.5 586.4,88.0 592.0,97.6" fill="none" stroke="#c8f5aa" stroke-width="5" /><polyline points="582.1,79.5 586.4,88.0 592.0,98.1" fill="none" stroke="#ececec" stroke-width="2.5" /><polyline points="600.8,83.2 599.2,96.0" fill="none" stroke="#ececec" stroke-width="1.2" /></g><g shape-rendering="auto"><polygon points="294.0,29.0 303.0,34.0 316.0,34.0 330.0,31.0 344.0,25.5 357.0,22.0 385.0,20.5 402.0,20.5 412.0,17.0 422.0,20.5 419.0,31.0 424.0,37.5 419.0,46.0 420.0,47.3 426.6,54.0 437.6,56.0 448.6,58.3 456.3,66.0 464.0,70.4 472.8,73.7 481.6,76.0 489.3,73.7 490.4,63.8 493.7,58.3 502.5,55.0 512.4,58.3 519.0,62.7 527.8,66.0 538.8,68.2 549.8,71.5 558.6,72.6 565.2,68.2 574.0,66.0 582.8,69.3 591.6,70.4 600.4,69.3 601.0,80.0 600.0,93.0 596.0,96.0 592.0,97.6 594.4,108.0 598.4,119.2 603.2,128.8 605.6,135.2 606.4,140.0 613.6,144.8 616.8,152.8 618.4,157.6 617.6,168.8 619.2,177.0 625.0,182.5 632.5,195.0 637.5,205.0 647.5,212.5 657.5,222.5 661.0,232.5 665.0,241.0 675.0,246.0 690.0,246.5 707.0,240.0 719.0,233.5 724.0,236.0 722.0,250.0 714.0,271.0 700.0,291.0 686.0,308.0 669.0,325.0 652.0,342.0 640.0,356.0 635.0,373.0 633.0,390.0 638.0,407.0 642.0,420.0 644.0,440.0 644.0,461.0 635.0,474.0 622.0,483.0 608.0,495.0 599.0,505.0 604.0,519.0 604.0,536.0 598.0,546.0 586.0,556.0 586.0,570.0 577.0,583.0 567.0,597.0 553.0,611.0 540.0,621.0 523.0,626.0 509.0,626.0 489.0,631.0 477.0,624.0 477.0,611.0 472.0,597.0 466.0,580.0 460.0,570.0 453.0,556.0 449.0,536.0 444.0,519.0 436.0,502.0 429.0,485.0 429.0,468.0 434.0,447.0 441.0,434.0 442.0,421.0 437.0,400.0 434.0,387.0 429.0,377.0 419.0,365.0 412.0,353.0 405.0,341.0 408.0,332.0 412.0,322.0 413.0,307.0 407.0,301.0 401.0,296.0 385.0,296.0 378.0,286.0 371.0,281.0 350.0,281.0 337.0,288.0 316.0,290.0 296.0,291.0 282.0,296.0 269.0,286.0 255.0,274.0 243.0,269.0 241.0,261.0 234.0,247.0 226.0,240.0 216.0,230.0 214.0,222.0 209.0,208.0 216.0,194.0 219.0,181.0 214.0,164.0 212.0,150.0 217.0,140.0 226.0,126.0 234.0,109.0 241.0,99.0 253.0,94.0 263.0,85.0 267.0,68.0 272.0,56.0 282.0,48.0 292.0,37.0" fill="none" stroke="#a0a0a0" stroke-width="1" stroke-linejoin="round"/><polygon points="542.0,0.0 545.4,8.8 548.7,16.5 556.4,21.0 560.8,24.0 569.6,21.0 578.4,23.0 587.2,25.3 596.0,23.0 602.6,19.8 609.2,21.0 610.3,28.6 608.1,39.6 607.0,50.6 603.7,61.6 601.5,68.2 599.0,72.0 598.0,90.0 600.0,96.0 604.8,96.8 609.6,104.8 614.4,112.8 617.6,122.4 623.2,128.8 628.8,133.6 631.2,140.0 632.8,149.6 635.2,155.2 641.6,162.4 646.4,168.8 648.8,177.0 655.0,180.0 661.0,190.0 662.5,205.0 663.8,220.0 666.0,226.0 677.0,223.0 694.0,216.6 711.5,209.7 732.0,196.0 752.0,186.0 766.0,170.5 773.0,160.0 779.7,151.8 786.5,143.0 779.7,134.7 769.0,128.0 762.6,121.0 761.0,112.5 752.0,119.0 742.0,126.0 732.0,129.6 725.0,126.0 723.0,117.6 716.6,109.0 709.7,99.0 701.0,88.7 697.8,79.0 701.0,76.7 711.0,78.0 721.7,85.0 728.5,93.8 738.7,100.6 750.0,104.0 760.0,101.0 768.0,102.0 770.0,112.0 780.0,117.0 800.8,119.5 820.0,117.6 836.8,117.0 840.4,122.4 846.4,129.6 856.0,130.8 868.0,129.0 865.6,134.4 857.0,144.0 863.0,153.6 870.4,157.0 880.0,150.0 884.8,146.0 885.0,162.8 887.8,179.0 890.5,195.6 897.3,212.0 904.0,228.0 911.0,247.4 915.0,261.0 920.5,265.7 927.4,261.0 934.0,248.8 938.3,236.5 941.0,220.0 939.7,206.5 945.0,198.0 957.4,187.4 968.3,176.5 979.3,164.0 988.8,154.6 1001.0,147.8 1001.0,0.0" fill="none" stroke="#a0a0a0" stroke-width="1" stroke-linejoin="round"/><polygon points="708.7,438.8 713.8,447.3 717.2,460.9 715.5,474.6 710.4,488.2 705.3,505.3 700.1,522.3 695.0,539.4 689.9,549.6 679.7,553.0 671.1,547.9 666.0,536.0 664.3,522.3 669.4,508.7 672.9,495.0 669.4,484.8 672.9,474.6 683.1,471.2 693.3,464.3 700.1,454.1 705.3,443.9" fill="none" stroke="#a0a0a0" stroke-width="1" stroke-linejoin="round"/><polygon points="-1.5,345.0 4.5,348.0 6.0,355.5 15.0,357.0 27.0,358.5 39.0,358.5 51.0,366.0 61.5,376.5 73.5,379.5 78.0,390.0 78.0,400.5 73.5,411.0 67.5,420.0 60.0,429.0 52.5,442.5 48.0,447.0 47.4,465.0 45.0,486.0 40.5,501.0 34.5,516.0 27.0,526.5 15.0,531.0 -1.5,534.0" fill="none" stroke="#a0a0a0" stroke-width="1" stroke-linejoin="round"/><polygon points="272.1,0.0 270.4,17.1 282.3,18.8 292.6,18.8 297.7,24.6 304.5,20.5 316.4,15.3 330.1,11.9 338.6,5.1 340.3,0.0" fill="none" stroke="#a0a0a0" stroke-width="1" stroke-linejoin="round"/><polygon points="433.2,11.0 439.8,8.8 453.0,9.9 455.2,15.4 453.0,20.9 448.6,19.8 440.9,15.4 434.3,14.3" fill="none" stroke="#a0a0a0" stroke-width="1" stroke-linejoin="round"/><polygon points="493.7,1.1 493.7,8.8 500.3,13.2 503.6,19.8 508.0,20.9 511.3,24.2 512.4,19.8 510.2,13.2 516.8,12.1 519.0,6.6 514.6,1.1" fill="none" stroke="#a0a0a0" stroke-width="1" stroke-linejoin="round"/><polygon points="515.7,31.9 523.4,33.0 530.0,33.0 536.6,34.8 535.5,37.0 527.8,37.0 522.3,35.2 516.8,34.1" fill="none" stroke="#a0a0a0" stroke-width="1" stroke-linejoin="round"/><polygon points="581.7,35.2 587.2,33.4 598.2,31.2 593.8,35.2 589.4,38.5 582.8,38.5" fill="none" stroke="#a0a0a0" stroke-width="1" stroke-linejoin="round"/><polygon points="938.3,251.5 943.8,254.3 950.6,263.8 953.3,273.4 949.2,281.6 942.4,284.3 938.3,278.8 937.0,266.6" fill="none" stroke="#a0a0a0" stroke-width="1" stroke-linejoin="round"/><polygon points="743.9,0.0 743.9,13.6 738.7,18.8 725.0,22.0 711.5,18.8 704.6,10.0 704.0,0.0" fill="none" stroke="#a0a0a0" stroke-width="1"/><g clip-path="url(#land)"><polyline points="275.5,83.6 274.8,102.3 249.9,114.3 249.9,129.6 242.1,136.4 241.4,153.5 214.1,153.5" fill="none" stroke="#a0a0a0" stroke-width="1" /><polyline points="274.8,102.3 299.4,121.1 330.1,139.8 364.2,170.5 365.9,173.3 375.1,171.6" fill="none" stroke="#a0a0a0" stroke-width="1" /><polyline points="290.8,121.1 292.6,143.2 298.7,201.9 259.1,203.6 253.3,209.8 246.5,201.2 236.3,193.4 219.2,194.4" fill="none" stroke="#a0a0a0" stroke-width="1" /><polyline points="265.3,90.4 282.3,80.8 299.4,72.3 316.4,63.8 330.1,60.0 327.3,37.5 317.1,34.1" fill="none" stroke="#a0a0a0" stroke-width="1" /><polyline points="375.1,171.6 384.6,167.1 425.6,136.4 433.1,134.7" fill="none" stroke="#a0a0a0" stroke-width="1" /><polyline points="401.7,20.5 402.4,37.5 396.6,44.3 405.8,58.7 411.9,78.4 415.3,102.3 417.0,122.8 425.6,129.6 433.1,134.7" fill="none" stroke="#a0a0a0" stroke-width="1" /><polyline points="405.8,58.7 418.7,56.3 425.6,51.2" fill="none" stroke="#a0a0a0" stroke-width="1" /><polyline points="433.1,134.7 452.9,139.8 459.7,135.7 520.0,167.8" fill="none" stroke="#a0a0a0" stroke-width="1" /><polyline points="452.9,139.8 456.3,160.3 458.0,184.2 449.4,201.2 441.9,211.5 446.0,225.1 451.1,238.7 452.9,250.0" fill="none" stroke="#a0a0a0" stroke-width="1" /><polyline points="375.1,171.6 372.7,201.9 347.1,204.6 340.3,208.7 330.1,212.1 323.2,218.3 313.7,221.7 309.6,231.9 299.4,235.3" fill="none" stroke="#a0a0a0" stroke-width="1" /><polyline points="367.6,250.0 369.3,231.9 377.8,218.3 391.5,222.4 411.9,225.1 425.6,221.7 439.2,223.4 446.0,225.1" fill="none" stroke="#a0a0a0" stroke-width="1" /><polyline points="525.6,64.8 526.6,146.7 526.6,163.7 519.8,164.7 519.8,201.2 510.2,204.6 500.0,218.3" fill="none" stroke="#a0a0a0" stroke-width="1" /><polyline points="526.6,146.7 616.0,147.3" fill="none" stroke="#a0a0a0" stroke-width="1" /><polyline points="500.0,158.6 519.8,164.7" fill="none" stroke="#a0a0a0" stroke-width="1" /><polyline points="608.5,44.3 610.8,61.4 602.3,80.2" fill="none" stroke="#a0a0a0" stroke-width="1" /><polyline points="610.8,61.4 633.0,51.2 643.2,63.1 670.5,81.9 691.0,87.0 697.8,79.1" fill="none" stroke="#a0a0a0" stroke-width="1" /><polyline points="612.6,34.1 643.2,23.9 660.3,17.1 673.9,15.3" fill="none" stroke="#a0a0a0" stroke-width="1" /><polyline points="673.9,0.0 679.1,20.5 684.2,37.5 694.4,58.0 698.5,76.7" fill="none" stroke="#a0a0a0" stroke-width="1" /><polyline points="663.7,185.9 685.9,201.2 704.6,179.1 745.6,167.1 754.1,155.2 755.8,136.4 759.2,122.8" fill="none" stroke="#a0a0a0" stroke-width="1" /><polyline points="731.9,172.2 735.3,189.3" fill="none" stroke="#a0a0a0" stroke-width="1" /><polyline points="725.1,127.9 731.9,136.4 754.1,139.8" fill="none" stroke="#a0a0a0" stroke-width="1" /><polyline points="800.1,0.0 801.8,20.5 794.0,34.1 803.5,61.4 796.7,80.2 812.1,88.7 803.5,105.7 801.8,119.4" fill="none" stroke="#a0a0a0" stroke-width="1" /><polyline points="745.6,13.6 766.0,10.2 783.1,13.6 800.1,22.2" fill="none" stroke="#a0a0a0" stroke-width="1" /><polyline points="400.0,284.6 413.6,277.7 434.1,257.3 444.3,243.6 451.2,230.0" fill="none" stroke="#a0a0a0" stroke-width="1" /><polyline points="451.2,277.7 461.4,270.9 481.9,267.5 502.3,250.5 509.1,240.2" fill="none" stroke="#a0a0a0" stroke-width="1" /><polyline points="449.5,281.2 461.4,311.9 478.4,301.6 481.9,294.8 509.1,293.1 536.4,291.4 560.3,294.8 570.5,301.6 591.0,303.3 596.1,294.8" fill="none" stroke="#a0a0a0" stroke-width="1" /><polyline points="509.1,240.2 526.2,264.1 543.2,288.0 560.3,294.8" fill="none" stroke="#a0a0a0" stroke-width="1" /><polyline points="461.4,311.9 473.3,325.5 469.9,342.6 459.7,359.6 449.5,376.7 434.1,385.2" fill="none" stroke="#a0a0a0" stroke-width="1" /><polyline points="410.2,315.3 437.5,315.3 439.2,323.8 444.3,322.1 447.7,332.3 442.6,339.1 444.3,349.4 451.2,356.2 447.7,373.2 461.4,363.0 469.9,342.6" fill="none" stroke="#a0a0a0" stroke-width="1" /><polyline points="570.5,301.6 573.9,318.7 563.7,332.3 560.3,347.7 556.9,359.6 560.3,376.7 567.1,393.7 570.5,407.4" fill="none" stroke="#a0a0a0" stroke-width="1" /><polyline points="432.4,385.2 463.1,385.2 471.6,403.9 485.3,395.4 502.3,397.1 505.7,427.8 519.4,429.5 519.4,444.9 504.0,446.6 504.0,480.0" fill="none" stroke="#a0a0a0" stroke-width="1" /><polyline points="519.4,429.5 536.4,434.6 553.5,438.0 562.0,448.3 563.0,434.6 553.5,431.2 551.8,415.9 570.5,407.4 591.0,417.6 596.1,431.2" fill="none" stroke="#a0a0a0" stroke-width="1" /><polyline points="599.5,434.6 618.3,432.9 638.7,431.2" fill="none" stroke="#a0a0a0" stroke-width="1" /><polyline points="591.0,417.6 596.1,431.2 597.8,448.3 604.6,456.8 601.2,465.3 591.0,448.3 585.9,434.6" fill="none" stroke="#a0a0a0" stroke-width="1" /><polyline points="429.0,481.4 442.6,483.1 478.4,483.8 498.9,488.2 517.7,484.8 529.6,486.5" fill="none" stroke="#a0a0a0" stroke-width="1" /><polyline points="497.2,489.9 496.2,522.3 489.4,523.0 489.4,576.9 469.9,580.3" fill="none" stroke="#a0a0a0" stroke-width="1" /><polyline points="489.4,549.6 495.5,563.2 505.7,561.5 512.6,551.3 529.6,554.7 539.8,542.8 550.1,529.1 560.3,524.0 573.9,525.7" fill="none" stroke="#a0a0a0" stroke-width="1" /><polyline points="529.6,486.5 536.4,501.9 546.7,510.4 550.1,518.9 573.9,525.7 585.9,505.3 587.6,478.0 570.5,471.2 560.3,469.5 550.1,478.0 545.0,484.8 529.6,486.5" fill="none" stroke="#a0a0a0" stroke-width="1" /><polyline points="585.9,505.3 599.5,500.2" fill="none" stroke="#a0a0a0" stroke-width="1" /><polyline points="573.9,525.7 579.1,542.8 579.1,563.2 584.2,566.7" fill="none" stroke="#a0a0a0" stroke-width="1" /><polyline points="543.2,587.1 551.8,580.3 558.6,585.4 553.5,593.9 545.0,593.9 543.2,587.1" fill="none" stroke="#a0a0a0" stroke-width="1" /><polyline points="572.2,556.4 577.4,554.7 579.1,565.0 573.9,568.4 572.2,556.4" fill="none" stroke="#a0a0a0" stroke-width="1" /><polyline points="504.0,420.0 504.0,447.3 519.4,445.6 519.4,420.0" fill="none" stroke="#a0a0a0" stroke-width="1" /><polyline points="796.0,24.0 808.0,28.8 822.4,21.6 832.0,14.4 848.8,18.0 851.2,12.0 865.6,9.6 872.8,12.0 875.2,24.0 870.4,36.0 865.6,48.0 856.0,62.4 841.6,67.2 834.4,79.2 817.6,82.8 798.4,81.6" fill="none" stroke="#a0a0a0" stroke-width="1" /><polyline points="798.4,24.0 793.6,40.8 796.0,57.6 803.2,69.6 796.0,79.2 800.8,86.4 811.6,100.8 803.2,108.0 800.8,120.0" fill="none" stroke="#a0a0a0" stroke-width="1" /><polyline points="894.4,45.6 899.2,55.2 904.0,58.8 894.4,69.6 889.6,84.0 875.2,96.0 860.8,100.8 863.2,110.4 870.4,120.0 872.8,127.2" fill="none" stroke="#a0a0a0" stroke-width="1" /><polyline points="875.2,24.0 884.8,16.8 899.2,18.0 908.8,26.4 923.2,33.6 930.4,45.6 935.2,55.2 928.0,60.0 932.8,69.6 947.2,76.8 964.0,82.8 983.2,94.8 1000.0,96.0" fill="none" stroke="#a0a0a0" stroke-width="1" /><polyline points="947.2,76.8 940.0,82.8 942.4,91.2 959.2,96.0 976.0,102.0 990.4,105.6 1000.0,109.2" fill="none" stroke="#a0a0a0" stroke-width="1" /><polyline points="627.4,184.0 621.0,188.0 616.2,193.6 613.0,208.0 613.8,212.8 617.8,212.0 621.0,214.4 624.2,208.8 627.4,211.2 637.0,211.2 644.2,213.6 651.4,219.2 657.8,225.6 661.8,230.4 653.0,236.8 653.0,240.8 659.4,241.6 662.6,246.4 673.0,260.0 685.0,262.4" fill="none" stroke="#a0a0a0" stroke-width="1" /><polyline points="613.8,212.8 609.8,224.0 605.0,228.8 600.2,240.0 596.2,244.8 595.4,256.0 595.4,262.4 587.4,264.0 586.6,268.8 595.4,272.0 600.2,277.0" fill="none" stroke="#a0a0a0" stroke-width="1" /><polyline points="659.4,241.6 661.0,235.2 665.8,236.8" fill="none" stroke="#a0a0a0" stroke-width="1" /><polyline points="595.4,250.0 595.4,261.2 587.4,262.8 586.6,267.6 593.8,270.8 600.2,280.4 603.4,288.4 606.6,290.0 607.4,296.4 595.4,296.4 593.8,299.6 590.6,302.0 581.0,303.6 576.2,302.8 571.4,303.6 569.0,301.2 561.0,295.6 552.2,298.0 544.2,290.8 541.0,291.6 529.8,289.2 525.0,293.2" fill="none" stroke="#a0a0a0" stroke-width="1" /><polyline points="607.4,296.4 616.2,297.2 624.2,303.6 635.4,306.0 641.8,300.4 649.8,301.2 657.8,298.0 664.2,294.0 675.4,293.2 685.0,283.6" fill="none" stroke="#a0a0a0" stroke-width="1" /><polyline points="651.4,302.8 646.6,310.8 646.6,341.2 653.0,347.6" fill="none" stroke="#a0a0a0" stroke-width="1" /><polyline points="595.4,296.4 598.6,306.0 601.8,314.0 600.2,322.0 595.4,330.0 593.8,339.6 593.8,342.8" fill="none" stroke="#a0a0a0" stroke-width="1" /><polyline points="569.0,301.2 571.4,314.0 574.6,317.2 563.4,328.4 561.8,339.6 561.8,346.0" fill="none" stroke="#a0a0a0" stroke-width="1" /><polyline points="561.8,346.0 576.2,342.8 593.8,342.8 624.2,360.4" fill="none" stroke="#a0a0a0" stroke-width="1" /><polyline points="662.6,250.0 669.0,256.4 685.0,264.4" fill="none" stroke="#a0a0a0" stroke-width="1" /><polyline points="260.2,255.6 261.9,267.5 275.5,274.3 277.2,288.0 282.3,296.5" fill="none" stroke="#a0a0a0" stroke-width="1" /><polyline points="277.2,274.3 296.0,270.9 316.4,274.3 318.1,289.7" fill="none" stroke="#a0a0a0" stroke-width="1" /><polyline points="316.4,274.3 323.2,260.7 336.9,253.9 347.1,243.6 343.7,230.0" fill="none" stroke="#a0a0a0" stroke-width="1" /><polyline points="343.7,250.5 343.7,282.9" fill="none" stroke="#a0a0a0" stroke-width="1" /><polyline points="350.5,253.9 352.2,281.2" fill="none" stroke="#a0a0a0" stroke-width="1" /><polyline points="364.2,250.5 365.9,281.2" fill="none" stroke="#a0a0a0" stroke-width="1" /><polyline points="405.1,286.3 418.7,270.9 432.4,264.1 442.6,250.5 449.4,230.0" fill="none" stroke="#a0a0a0" stroke-width="1" /><polyline points="449.4,288.0 463.1,277.7 476.7,270.9 487.0,250.5 507.4,240.2 520.0,241.9" fill="none" stroke="#a0a0a0" stroke-width="1" /></g><ellipse cx="205.6" cy="90.4" rx="1.2" ry="1.2" transform="rotate(0 205.6 90.4)" fill="none" stroke="#a0a0a0" stroke-width="1"/><ellipse cx="210.0" cy="93.0" rx="1.5" ry="1" transform="rotate(0 210.0 93.0)" fill="none" stroke="#a0a0a0" stroke-width="1"/><ellipse cx="214.0" cy="93.5" rx="1.5" ry="1" transform="rotate(0 214.0 93.5)" fill="none" stroke="#a0a0a0" stroke-width="1"/><ellipse cx="222.5" cy="96.0" rx="2" ry="2" transform="rotate(0 222.5 96.0)" fill="none" stroke="#a0a0a0" stroke-width="1"/><ellipse cx="234.5" cy="90.0" rx="4.5" ry="1.2" transform="rotate(-50 234.5 90.0)" fill="none" stroke="#a0a0a0" stroke-width="1"/><ellipse cx="228.0" cy="93.0" rx="1.5" ry="1" transform="rotate(0 228.0 93.0)" fill="none" stroke="#a0a0a0" stroke-width="1"/><ellipse cx="742.8" cy="227.5" rx="4" ry="1.5" transform="rotate(-10 742.8 227.5)" fill="none" stroke="#a0a0a0" stroke-width="1"/><ellipse cx="664.0" cy="434.0" rx="1.5" ry="1" transform="rotate(0 664.0 434.0)" fill="none" stroke="#a0a0a0" stroke-width="1"/><ellipse cx="672.9" cy="438.0" rx="1.5" ry="1" transform="rotate(0 672.9 438.0)" fill="none" stroke="#a0a0a0" stroke-width="1"/><ellipse cx="678.0" cy="443.0" rx="1.5" ry="1.2" transform="rotate(0 678.0 443.0)" fill="none" stroke="#a0a0a0" stroke-width="1"/><ellipse cx="404.4" cy="305.0" rx="2.2" ry="1.5" transform="rotate(-40 404.4 305.0)" fill="none" stroke="#a0a0a0" stroke-width="1"/><ellipse cx="394.0" cy="321.4" rx="1" ry="1" transform="rotate(0 394.0 321.4)" fill="none" stroke="#a0a0a0" stroke-width="1"/><ellipse cx="388.7" cy="332.3" rx="1.5" ry="1.5" transform="rotate(0 388.7 332.3)" fill="none" stroke="#a0a0a0" stroke-width="1"/><ellipse cx="756.0" cy="513.0" rx="1.5" ry="1.2" transform="rotate(0 756.0 513.0)" fill="none" stroke="#a0a0a0" stroke-width="1"/><ellipse cx="771.0" cy="508.0" rx="1.5" ry="1.5" transform="rotate(0 771.0 508.0)" fill="none" stroke="#a0a0a0" stroke-width="1"/><ellipse cx="447.0" cy="27.0" rx="1.2" ry="1" transform="rotate(0 447.0 27.0)" fill="none" stroke="#a0a0a0" stroke-width="1"/><ellipse cx="635.5" cy="380.0" rx="1" ry="2.5" transform="rotate(0 635.5 380.0)" fill="none" stroke="#a0a0a0" stroke-width="1"/><ellipse cx="636.5" cy="393.0" rx="1" ry="2.5" transform="rotate(0 636.5 393.0)" fill="none" stroke="#a0a0a0" stroke-width="1"/><ellipse cx="203.0" cy="158.0" rx="1" ry="1" transform="rotate(0 203.0 158.0)" fill="none" stroke="#a0a0a0" stroke-width="1"/><ellipse cx="157.0" cy="190.0" rx="1.2" ry="1" transform="rotate(0 157.0 190.0)" fill="none" stroke="#a0a0a0" stroke-width="1"/><ellipse cx="152.0" cy="207.0" rx="1" ry="1" transform="rotate(0 152.0 207.0)" fill="none" stroke="#a0a0a0" stroke-width="1"/></g></svg></div>
<span class="t" style="left:-0.50px;letter-spacing:1.40px;transform:scaleX(1.0662)">Volumetric</span><span class="t" style="left:123.00px;letter-spacing:1.40px;transform:scaleX(1.0622)">Soil</span><span class="t" style="left:174.00px;letter-spacing:1.40px;transform:scaleX(1.0287)">Moisture</span><span class="t" style="left:274.00px;letter-spacing:1.40px;transform:scaleX(1.1636)">[hPa]</span><span class="t" style="left:346.50px;letter-spacing:1.40px;transform:scaleX(0.9210)">GFS</span><span class="t" style="left:573.50px;letter-spacing:1.40px;transform:scaleX(1.0097)">Su</span><span class="t" style="left:611.50px;letter-spacing:1.40px;transform:scaleX(1.1790)">01−03−2026</span><span class="t" style="left:771.00px;letter-spacing:1.40px;transform:scaleX(1.0800)">12:00</span><span class="t" style="left:843.50px;letter-spacing:1.40px;transform:scaleX(0.9037)">UTC</span><span class="t" style="left:895.25px;letter-spacing:1.40px;transform:scaleX(1.1821)">(00+252)</span><svg class="lg" width="470" height="16" viewBox="0 0 470 16" shape-rendering="crispEdges"><polygon points="9,7.5 45,0.5 45,14.5" fill="#3264ff"/><rect x="45" y="0" width="32" height="15" fill="#3c96ff"/><rect x="77" y="0" width="32" height="15" fill="#3cffff"/><rect x="109" y="0" width="31" height="15" fill="#00b400"/><rect x="140" y="0" width="32" height="15" fill="#00d200"/><rect x="172" y="0" width="32" height="15" fill="#00f000"/><rect x="204" y="0" width="32" height="15" fill="#ffff3c"/><rect x="236" y="0" width="32" height="15" fill="#ffd23c"/><rect x="268" y="0" width="32" height="15" fill="#ffb43c"/><rect x="300" y="0" width="31" height="15" fill="#ffa000"/><rect x="331" y="0" width="32" height="15" fill="#ff7800"/><rect x="363" y="0" width="32" height="15" fill="#ff0000"/><rect x="395" y="0" width="32" height="15" fill="#c80000"/><polygon points="427,0.5 460,7.5 427,14.5" fill="#c80000"/></svg><div class="lb" style="left:36.5px">0</div><div class="lb" style="left:68px">0.05</div><div class="lb" style="left:99.5px">.1</div><div class="lb" style="left:131.5px">.15</div><div class="lb" style="left:164px">.2</div><div class="lb" style="left:196px">.3</div><div class="lb" style="left:228px">.4</div><div class="lb" style="left:268.5px">.5</div><div class="lb" style="left:300px">.6</div><div class="lb" style="left:332px">.8</div><div class="lb" style="left:362.5px">1</div><div class="lb" style="left:395px">3</div><div class="lb" style="left:427px">5</div>
<div id="cr">&copy;weatheronline.co.uk</div>
</body></html>
